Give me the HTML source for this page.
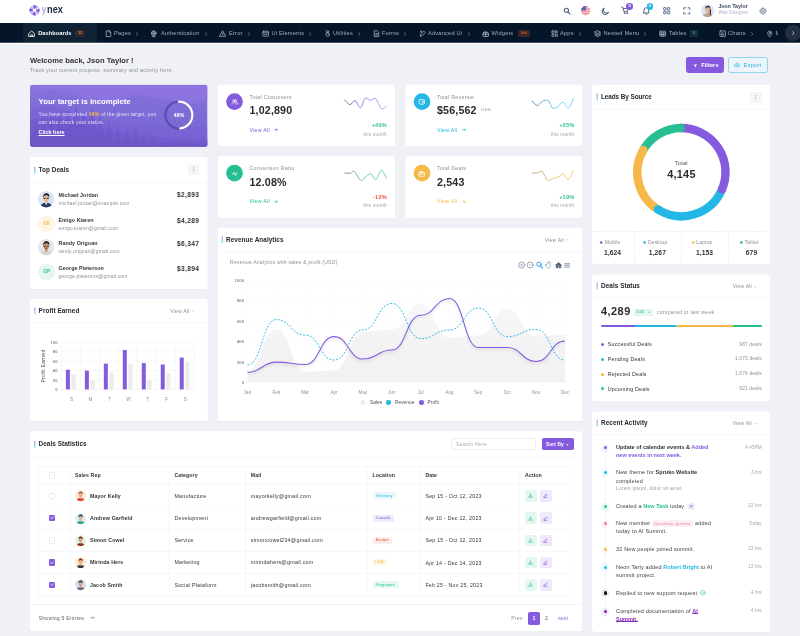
<!DOCTYPE html>
<html><head><meta charset="utf-8"><title>Ynex</title>
<style>
*{box-sizing:border-box;margin:0;padding:0}
html,body{width:800px;height:636px;overflow:hidden}
#root{position:absolute;left:0;top:0;width:800px;height:636px;will-change:transform;transform:translateZ(0)}
body{background:#f0f1f7;font-family:"Liberation Sans",sans-serif;color:#333335;position:relative;font-size:5.4px;line-height:1}
.a{position:absolute;white-space:nowrap}
.card{position:absolute;background:#fff;border-radius:3px;box-shadow:0 .3px .6px rgba(0,0,0,.03)}
.hd{position:absolute;left:0;right:0;top:0;border-bottom:.5px solid #f1f2f6}
.tt{position:absolute;font-weight:700;font-size:6.6px;color:#2a2a2e;white-space:nowrap}
.tt:before{content:"";position:absolute;left:-4.3px;top:.6px;width:1px;height:5.6px;background:linear-gradient(#845adf,#23b7e5)}
.nt{font-size:5.700px;color:#a3abbc;letter-spacing:.032em}
.m{color:#8c9097}
.b{font-weight:700}
.p{color:#845adf}.s{color:#23b7e5}.w{color:#f5b849}.g{color:#26bf94}.d{color:#e6533c}
.va{position:absolute;font-size:5.2px;color:#8c9097;white-space:nowrap}
.dot3{position:absolute;width:9px;height:9px;border-radius:1.5px;background:#f3f4f8;border:.4px solid #eceef3}
svg{position:absolute;overflow:visible}
</style></head><body><div id="root">

<!-- HEADER -->
<div class="a" id="header" style="left:0;top:0;width:800px;height:23px;background:#fff">
<!-- logo -->
<svg style="left:0;top:0" width="80" height="23"><path d="M36.10 9.72L40.08 9.11L38.91 12.65L36.04 11.02Z" fill="#7c4fe0"/><path d="M36.04 11.02L39.28 13.40L35.96 15.08L35.08 11.90Z" fill="#c9b8f5"/><path d="M35.08 11.90L35.69 15.88L32.15 14.71L33.78 11.84Z" fill="#7c4fe0"/><path d="M33.78 11.84L31.40 15.08L29.72 11.76L32.90 10.88Z" fill="#c9b8f5"/><path d="M32.90 10.88L28.92 11.49L30.09 7.95L32.96 9.58Z" fill="#7c4fe0"/><path d="M32.96 9.58L29.72 7.20L33.04 5.52L33.92 8.70Z" fill="#c9b8f5"/><path d="M33.92 8.70L33.31 4.72L36.85 5.89L35.22 8.76Z" fill="#7c4fe0"/><path d="M35.22 8.76L37.60 5.52L39.28 8.84L36.10 9.72Z" fill="#c9b8f5"/>
<text x="41.700" y="12.800" font-family="Liberation Sans" font-size="10.800" font-weight="700" fill="#b9a3ef" textLength="4.500" lengthAdjust="spacingAndGlyphs">y</text>
<text x="47.100" y="12.800" font-family="Liberation Sans" font-size="10.800" font-weight="700" fill="#1b2740" textLength="15.900" lengthAdjust="spacingAndGlyphs">nex</text></svg>
<!-- icons -->
<svg style="left:563.2px;top:6.900px" width="8" height="8" viewBox="0 0 16 16" fill="none" stroke="#536485" stroke-width="2.300" stroke-linecap="round"><circle cx="6.7" cy="6.7" r="4.3"/><path d="M10 10l4.2 4.2"/></svg>
<svg style="left:581.4px;top:6.2px" width="9.4" height="9.4" viewBox="0 0 20 20"><defs><clipPath id="fc"><circle cx="10" cy="10" r="10"/></clipPath></defs><g clip-path="url(#fc)"><rect width="20" height="20" fill="#f7c3c9"/><rect y="0" width="20" height="2.4" fill="#ef8f9b"/><rect y="5" width="20" height="2.4" fill="#ef8f9b"/><rect y="10" width="20" height="2.4" fill="#ef8f9b"/><rect y="15" width="20" height="2.4" fill="#ef8f9b"/><rect y="18.6" width="20" height="2" fill="#ef8f9b"/><rect width="10.500" height="9.500" fill="#5f63ad"/></g></svg>
<svg style="left:600.7px;top:6.500px" width="8.600" height="8.600" viewBox="0 0 16 16" fill="none" stroke="#536485" stroke-width="1.900" stroke-linejoin="round"><path d="M6.2 2.2a6 6 0 1 0 7.6 7.6A5 5 0 0 1 6.2 2.2z"/></svg>
<svg style="left:620.9px;top:6.300px" width="8.800" height="8.800" viewBox="0 0 18 18" fill="none" stroke="#536485" stroke-width="2" stroke-linecap="round" stroke-linejoin="round"><path d="M1.5 2.5h2.3l2 8.6h7.6l1.8-6H5"/><circle cx="7" cy="14.6" r="1" fill="#536485"/><circle cx="12.6" cy="14.6" r="1" fill="#536485"/></svg>
<div class="a" style="left:626.4px;top:3.100px;width:6.600px;height:6.600px;border-radius:50%;background:#845adf;color:#fff;font-size:4.2px;font-weight:700;text-align:center;line-height:6.8px">5</div>
<svg style="left:641.9px;top:6.400px" width="8.600" height="9" viewBox="0 0 18 18" fill="none" stroke="#536485" stroke-width="2" stroke-linecap="round" stroke-linejoin="round"><path d="M4.2 12.6V8a4.8 4.800 0 0 1 9.600 0v4.600l1.400 1.600H2.800z"/><path d="M7.400 16.400h3.200"/></svg>
<div class="a" style="left:646.6px;top:3.100px;width:6.600px;height:6.600px;border-radius:50%;background:#23b7e5;color:#fff;font-size:4.2px;font-weight:700;text-align:center;line-height:6.8px">3</div>
<svg style="left:663px;top:7.100px" width="7.400" height="7.400" viewBox="0 0 16 16" fill="none" stroke="#536485" stroke-width="2" stroke-linejoin="round"><rect x="1.400" y="1.400" width="5.200" height="5.200" rx=".8"/><rect x="9.400" y="1.400" width="5.200" height="5.200" rx=".8"/><rect x="1.400" y="9.400" width="5.200" height="5.200" rx=".8"/><rect x="9.400" y="9.400" width="5.200" height="5.200" rx=".8"/></svg>
<svg style="left:682.8px;top:7px" width="7.6" height="7.6" viewBox="0 0 16 16" fill="none" stroke="#536485" stroke-width="1.9" stroke-linecap="round" stroke-linejoin="round"><path d="M1.600 5.400V1.600h3.800M10.600 1.600h3.800v3.800M14.400 10.600v3.800h-3.800M5.400 14.400H1.600v-3.800"/></svg>
<!-- avatar -->
<svg style="left:701.400px;top:4.100px" width="13.300" height="13.300" viewBox="0 0 26 26"><defs><clipPath id="av0"><circle cx="13" cy="13" r="13"/></clipPath></defs><g clip-path="url(#av0)"><rect width="26" height="26" fill="#dbe3fb"/><path d="M3 27c0-6 4-9 10-9s10 3 10 9z" fill="#b9a68f"/><path d="M17.500 9c3 2 2.500 8 1.500 13l-2-1c.5-4 0-8-1-10z" fill="#2a2326"/><rect x="10.800" y="14" width="4.400" height="5.500" fill="#d9a17e"/><ellipse cx="13" cy="11" rx="4.300" ry="5" fill="#e5b491"/><path d="M8 11c-1-6 3-8 5.500-7.600C17 3 19 6 18 11c-.5-3-2-4.500-5-4.500S8.500 8 8 11z" fill="#3a2a26"/></g></svg>
<div class="a b" style="left:718.400px;top:4.300px;font-size:5.300px;color:#3b4763;letter-spacing:0">Json Taylor</div>
<div class="a" style="left:718.400px;top:10.900px;font-size:4.500px;color:#a4aec6;letter-spacing:.03em">Web Designer</div>
<svg style="left:759px;top:6.800px" width="8" height="8" viewBox="-8 -8 16 16" fill="none" stroke="#536485"><circle r="4.800" stroke-width="1.400"/><circle r="6.200" stroke-width="1.600" stroke-dasharray="2.435 2.435" transform="rotate(-14)"/><circle r="1.900" stroke-width="1.300"/></svg>
</div>
<!-- NAV -->
<div class="a" id="nav" style="left:0;top:23px;width:800px;height:20px;background:#05162a;overflow:hidden">
<div class="a" style="left:23px;top:0;width:74px;height:20px;background:#102334"></div>
<svg style="left:28.2px;top:6.700px" width="7.400" height="7.400" viewBox="0 0 16 16" fill="none" stroke="#ffffff" stroke-width="1.7" stroke-linecap="round" stroke-linejoin="round"><path d="M2 7.500L8 2.200l6 5.300V14H2z"/><path d="M6 14v-3.600h4V14"/></svg><div class="a b" style="left:38.2px;top:7.700px;font-size:5.700px;color:#fff;letter-spacing:.005em">Dashboards</div><div class="a" style="left:75px;top:6.500px;width:10.400px;height:7.200px;border-radius:1px;background:#2d2a2f;color:#f08c45;font-size:3.800px;font-weight:700;text-align:center;line-height:7.400px">12</div>
<svg style="left:105.1px;top:6.700px" width="7.400" height="7.400" viewBox="0 0 16 16" fill="none" stroke="#a7aebe" stroke-width="1.7" stroke-linecap="round" stroke-linejoin="round"><path d="M3.500 1.800h6l3 3V14.200h-9z"/><path d="M9.300 2v3h3"/></svg><div class="a nt" style="left:114.0px;top:7.9px;">Pages</div><svg style="left:136.0px;top:8.600px" width="2.400" height="3.800" viewBox="0 0 5 8" fill="none" stroke="#8d95a8" stroke-width="1.300" stroke-linecap="round" stroke-linejoin="round"><path d="M1 1l3 3-3 3"/></svg>
<svg style="left:150.0px;top:6.700px" width="7.400" height="7.400" viewBox="0 0 16 16" fill="none" stroke="#a7aebe" stroke-width="1.7" stroke-linecap="round" stroke-linejoin="round"><circle cx="8" cy="7" r="5"/><path d="M3 7h10M8 2c-2 1.500-2 8.500 0 10M8 2c2 1.500 2 8.500 0 10M4.500 14.500h7"/></svg><div class="a nt" style="left:160.9px;top:7.9px;">Authentication</div><svg style="left:205.0px;top:8.600px" width="2.400" height="3.800" viewBox="0 0 5 8" fill="none" stroke="#8d95a8" stroke-width="1.300" stroke-linecap="round" stroke-linejoin="round"><path d="M1 1l3 3-3 3"/></svg>
<svg style="left:219.2px;top:6.700px" width="7.400" height="7.400" viewBox="0 0 16 16" fill="none" stroke="#a7aebe" stroke-width="1.7" stroke-linecap="round" stroke-linejoin="round"><path d="M8 2.200L14.400 13.600H1.600z"/><path d="M8 6.800v3.200"/></svg><div class="a nt" style="left:229.0px;top:7.9px;">Error</div><svg style="left:248.0px;top:8.600px" width="2.400" height="3.800" viewBox="0 0 5 8" fill="none" stroke="#8d95a8" stroke-width="1.300" stroke-linecap="round" stroke-linejoin="round"><path d="M1 1l3 3-3 3"/></svg>
<svg style="left:262.2px;top:6.700px" width="7.400" height="7.400" viewBox="0 0 16 16" fill="none" stroke="#a7aebe" stroke-width="1.7" stroke-linecap="round" stroke-linejoin="round"><rect x="2" y="2.600" width="12" height="10.800" rx="1"/><path d="M2 6h12M5.600 9.600h4.800"/></svg><div class="a nt" style="left:271.5px;top:7.9px;">Ui Elements</div><svg style="left:309.0px;top:8.600px" width="2.400" height="3.800" viewBox="0 0 5 8" fill="none" stroke="#8d95a8" stroke-width="1.300" stroke-linecap="round" stroke-linejoin="round"><path d="M1 1l3 3-3 3"/></svg>
<svg style="left:323.7px;top:6.700px" width="7.400" height="7.400" viewBox="0 0 16 16" fill="none" stroke="#a7aebe" stroke-width="1.7" stroke-linecap="round" stroke-linejoin="round"><circle cx="8" cy="9.800" r="3.800"/><path d="M5.600 2h4.800l-1 4H6.600z"/></svg><div class="a nt" style="left:333.0px;top:7.9px;">Utilities</div><svg style="left:358.0px;top:8.600px" width="2.400" height="3.800" viewBox="0 0 5 8" fill="none" stroke="#8d95a8" stroke-width="1.300" stroke-linecap="round" stroke-linejoin="round"><path d="M1 1l3 3-3 3"/></svg>
<svg style="left:372.7px;top:6.700px" width="7.400" height="7.400" viewBox="0 0 16 16" fill="none" stroke="#a7aebe" stroke-width="1.7" stroke-linecap="round" stroke-linejoin="round"><path d="M3.500 1.800h6l3 3V14.200h-9z"/><path d="M5.800 8h4.400M5.800 10.800h4.400"/></svg><div class="a nt" style="left:382.0px;top:7.9px;">Forms</div><svg style="left:404.0px;top:8.600px" width="2.400" height="3.800" viewBox="0 0 5 8" fill="none" stroke="#8d95a8" stroke-width="1.300" stroke-linecap="round" stroke-linejoin="round"><path d="M1 1l3 3-3 3"/></svg>
<svg style="left:418.7px;top:6.700px" width="7.400" height="7.400" viewBox="0 0 16 16" fill="none" stroke="#a7aebe" stroke-width="1.7" stroke-linecap="round" stroke-linejoin="round"><path d="M3 13l1-5 6.500-5.500 3 3L7 12z"/><path d="M2.500 4.500l2-1.500M5 2l.5 2"/></svg><div class="a nt" style="left:428.0px;top:7.9px;">Advanced Ui</div><svg style="left:468.0px;top:8.600px" width="2.400" height="3.800" viewBox="0 0 5 8" fill="none" stroke="#8d95a8" stroke-width="1.300" stroke-linecap="round" stroke-linejoin="round"><path d="M1 1l3 3-3 3"/></svg>
<svg style="left:482.2px;top:6.700px" width="7.400" height="7.400" viewBox="0 0 16 16" fill="none" stroke="#a7aebe" stroke-width="1.7" stroke-linecap="round" stroke-linejoin="round"><rect x="2" y="6" width="12" height="8" rx="1"/><path d="M2 9.500h12M8 6v8M5.500 6c-2-3 1.500-4.500 2.500 0 1-4.500 4.500-3 2.500 0"/></svg><div class="a nt" style="left:491.5px;top:7.9px;">Widgets</div>
<svg style="left:550.7px;top:6.700px" width="7.400" height="7.400" viewBox="0 0 16 16" fill="none" stroke="#a7aebe" stroke-width="1.7" stroke-linecap="round" stroke-linejoin="round"><rect x="2" y="2" width="5" height="5" rx=".8"/><rect x="9.500" y="2" width="4.500" height="4.500" rx=".8"/><rect x="2" y="9.500" width="4.500" height="4.500" rx=".8"/><rect x="9.500" y="9.500" width="4.500" height="4.500" rx=".8"/></svg><div class="a nt" style="left:560.0px;top:7.9px;">Apps</div><svg style="left:579.0px;top:8.600px" width="2.400" height="3.800" viewBox="0 0 5 8" fill="none" stroke="#8d95a8" stroke-width="1.300" stroke-linecap="round" stroke-linejoin="round"><path d="M1 1l3 3-3 3"/></svg>
<svg style="left:594.2px;top:6.700px" width="7.400" height="7.400" viewBox="0 0 16 16" fill="none" stroke="#a7aebe" stroke-width="1.7" stroke-linecap="round" stroke-linejoin="round"><path d="M8 1.800l6 3-6 3-6-3z"/><path d="M2 8l6 3 6-3M2 11.200l6 3 6-3"/></svg><div class="a nt" style="left:603.5px;top:7.9px;">Nested Menu</div><svg style="left:644.0px;top:8.600px" width="2.400" height="3.800" viewBox="0 0 5 8" fill="none" stroke="#8d95a8" stroke-width="1.300" stroke-linecap="round" stroke-linejoin="round"><path d="M1 1l3 3-3 3"/></svg>
<svg style="left:659.2px;top:6.700px" width="7.400" height="7.400" viewBox="0 0 16 16" fill="none" stroke="#a7aebe" stroke-width="1.7" stroke-linecap="round" stroke-linejoin="round"><rect x="1.800" y="2.600" width="12.400" height="10.800" rx="1"/><path d="M1.800 6.200h12.400M1.800 9.800h12.400M6 6.200v7.200M10 6.200v7.200"/></svg><div class="a nt" style="left:669.0px;top:7.9px;">Tables</div>
<svg style="left:718.7px;top:6.700px" width="7.400" height="7.400" viewBox="0 0 16 16" fill="none" stroke="#a7aebe" stroke-width="1.7" stroke-linecap="round" stroke-linejoin="round"><rect x="2" y="2" width="12" height="12" rx="1"/><path d="M5.400 11V8M8 11V5M10.600 11V9"/></svg><div class="a nt" style="left:728.0px;top:7.9px;">Charts</div><svg style="left:751.0px;top:8.600px" width="2.400" height="3.800" viewBox="0 0 5 8" fill="none" stroke="#8d95a8" stroke-width="1.300" stroke-linecap="round" stroke-linejoin="round"><path d="M1 1l3 3-3 3"/></svg>
<svg style="left:766.2px;top:6.700px" width="7.400" height="7.400" viewBox="0 0 16 16" fill="none" stroke="#a7aebe" stroke-width="1.7" stroke-linecap="round" stroke-linejoin="round"><path d="M8 14.500c-3-3.500-4.500-5.500-4.500-7.700a4.500 4.500 0 0 1 9 0c0 2.200-1.500 4.200-4.500 7.700z"/><circle cx="8" cy="6.800" r="1.600"/></svg><div class="a nt" style="left:775.5px;top:7.9px;">M</div>
<div class="a" style="left:517.800px;top:6.800px;width:12.600px;height:6.800px;border-radius:1px;background:#3a2627;color:#e6533c;font-size:3.500px;font-weight:700;text-align:center;line-height:6.800px">Hot</div>
<div class="a" style="left:690px;top:6.600px;width:7.600px;height:7px;border-radius:1px;background:#15303a;color:#26bf94;font-size:3.800px;font-weight:700;text-align:center;line-height:7.200px">3</div>
<div class="a" style="left:778.200px;top:0;width:22px;height:20px;background:#05162a"></div><div class="a" style="left:784.600px;top:1.800px;width:16.400px;height:16.400px;border-radius:50%;background:#222f40"></div><svg style="left:791.600px;top:8px" width="2.600" height="4.200" viewBox="0 0 5 8" fill="none" stroke="#c9cedb" stroke-width="1.400" stroke-linecap="round" stroke-linejoin="round"><path d="M1 1l3 3-3 3"/></svg>
</div>

<svg id="navhalo" style="left:0;top:0" width="800" height="46"><rect x="0" y="42.750" width="800" height="1.500" fill="#fdfdff"/></svg>

<!-- PAGE TITLE -->
<div class="a" style="top:55.74px;font-size:7.6px;line-height:9.12px;color:#333335;letter-spacing:0.0em;font-weight:700;left:30.00px;">Welcome back, Json Taylor !</div>
<div class="a" style="top:67.09px;font-size:5.35px;line-height:6.42px;color:#8c9097;letter-spacing:0.045em;left:30.00px;">Track your current projects, summary and activity here.</div>
<div class="a" style="left:686px;top:57px;width:38.2px;height:16.3px;border-radius:2.4px;background:#845adf"></div>
<svg style="left:692.8px;top:63.6px" width="4.8" height="3.7" viewBox="0 0 10 9" fill="#fff"><path d="M.5 1h9L6.2 4.600V8L3.800 6.800V4.600z"/></svg>
<div class="a" style="top:61.81px;font-size:5.65px;line-height:6.78px;color:#fff;letter-spacing:0.012em;font-weight:700;left:701.20px;">Filters</div>
<div class="a" style="left:728.4px;top:57px;width:39.4px;height:16.4px;border-radius:2.4px;background:#edf4fa;border:.7px solid #8fd6f0"></div>
<svg style="left:734px;top:62.4px" width="6" height="5.6" viewBox="0 0 12 11" fill="none" stroke="#23b7e5" stroke-width="1.200" stroke-linecap="round" stroke-linejoin="round"><path d="M3.200 9.500A2.600 2.600 0 0 1 3 4.300 3.200 3.200 0 0 1 9.200 4.500 2.500 2.500 0 0 1 9 9.500z"/><path d="M6 8V5.400M4.900 6.400L6 5.300l1.100 1.100"/></svg>
<div class="a" style="top:61.78px;font-size:5.7px;line-height:6.84px;color:#23b7e5;letter-spacing:0.04em;left:743.60px;">Export</div>
<svg style="left:0;top:0" width="800" height="636"><defs><clipPath id="tcp"><rect x="29.900" y="84.700" width="177.900" height="62.050" rx="3.200"/></clipPath></defs><rect x="29.300" y="84.100" width="179.100" height="63.250" rx="3.800" fill="#fff" fill-opacity=".5"/><g clip-path="url(#tcp)"><g transform="translate(29.900,84.500)">
<defs><linearGradient id="tg" x1="0" y1="0" x2="0" y2="1"><stop offset="0" stop-color="#8672db"/><stop offset="1" stop-color="#7463d0"/></linearGradient></defs>
<rect width="177.500" height="62.500" fill="url(#tg)"/>
<path d="M0 0H177.500V17L160 20L140 16L122 13L105 10L92 15L75 18L55 14L38 8L28 5L15 6L0 10Z" fill="#9376e5" opacity=".55"/>
<path d="M0 26L18 20L40 27L65 35L90 38L120 40L150 44L177.500 42V62.500H0z" fill="#7a5fd5" opacity=".55"/>
<path d="M0 36L25 32L50 40L80 47L110 50L140 54L177.500 55V62.500H0z" fill="#7058cc" opacity=".6"/>
<path d="M5 40L9.5 62.5H0.5ZM13 35L18.5 62.5H7.5ZM22 32L28.1 62.5H15.9ZM30 28L36.9 62.5H23.1ZM38 24L45.7 62.5H30.3ZM46 20L54.5 62.5H37.5ZM54 26L61.3 62.5H46.7ZM62 22L70.1 62.5H53.9ZM70 30L76.5 62.5H63.5ZM79 37L84.1 62.5H73.9ZM88 42L92.1 62.5H83.9ZM97 45L100.5 62.5H93.5ZM106 43L109.9 62.5H102.1ZM114 47L117.1 62.5H110.9ZM122 50L124.5 62.5H119.5ZM134 53L135.9 62.5H132.1ZM145 55L146.5 62.5H143.5Z" fill="#6a53c6" opacity=".6"/>
<path d="M0 52L40 50L80 54L120 57L177.500 59V62.500H0z" fill="#6c55c8" opacity=".7"/>
</g></g></svg>
<div class="a" style="top:97.35px;font-size:7.75px;line-height:9.30px;color:#fff;letter-spacing:-0.002em;font-weight:700;left:38.60px;">Your target is incomplete</div>
<div class="a" style="top:112.23px;font-size:4.95px;line-height:5.94px;color:rgba(255,255,255,.8);letter-spacing:0.045em;left:38.60px;">You have completed <b style="color:#f5b849">48%</b> of the given target, you</div>
<div class="a" style="top:119.63px;font-size:4.95px;line-height:5.94px;color:rgba(255,255,255,.8);letter-spacing:0.045em;left:38.60px;">can also check your status.</div>
<div class="a" style="top:129.02px;font-size:5.3px;line-height:6.36px;color:#fff;letter-spacing:0.012em;font-weight:700;left:38.60px;text-decoration:underline;text-underline-offset:.5px;text-decoration-thickness:.5px">Click here</div>
<svg style="left:0;top:0" width="800" height="636"><circle cx="178.9" cy="115.1" r="13.45" fill="none" stroke="#45348e" stroke-opacity=".55" stroke-width="2.300"/><circle cx="178.9" cy="115.1" r="13.45" fill="none" stroke="#fff" stroke-width="2.250" stroke-linecap="round" stroke-dasharray="40.56 84.51" transform="rotate(-90 178.9 115.1)"/></svg>
<div class="a" style="top:112.06px;font-size:5.4px;line-height:6.48px;color:#fff;letter-spacing:0.012em;font-weight:700;left:78.90px;width:200px;text-align:center;">48%</div>
<svg style="left:0;top:0" width="800" height="636"><rect x="217.85" y="85.3" width="177.15" height="61.55" rx="3.2" fill="#0a0a14" fill-opacity=".035"/><rect x="217.85" y="84.6" width="177.15" height="61.55" rx="3.2" fill="#fff"/></svg>
<svg style="left:0;top:0" width="800" height="636"><circle cx="234.5" cy="101.6" r="8.350" fill="#845adf"/></svg>
<svg style="left:230.7px;top:97.9px" width="7.600" height="7.600" viewBox="0 0 16 16" fill="none" stroke="#fff" stroke-width="1.600" stroke-linecap="round" stroke-linejoin="round"><circle cx="6.200" cy="5.800" r="2.300"/><path d="M2 13c0-2.500 1.800-4 4.200-4s4.200 1.500 4.200 4M10.200 3.600a2.300 2.300 0 0 1 0 4.400M11.600 9.300c1.600.5 2.600 1.800 2.600 3.700"/></svg>
<div class="a" style="top:93.79px;font-size:5.35px;line-height:6.42px;color:#8c9097;letter-spacing:0.045em;left:249.50px;">Total Customers</div>
<div class="a" style="top:104.18px;font-size:10.7px;line-height:12.84px;color:#2b2b30;letter-spacing:0.014em;font-weight:700;left:249.50px;">1,02,890</div>
<div class="a" style="top:126.85px;font-size:5.25px;line-height:6.30px;color:#845adf;letter-spacing:0.05em;left:249.50px;">View All</div>
<svg style="left:274.3px;top:128.3px" width="4" height="3.400" viewBox="0 0 8 7" fill="none" stroke="#845adf" stroke-width="1.300" stroke-linecap="round" stroke-linejoin="round"><path d="M.8 3.500h6M4.600 1.200l2.300 2.300-2.300 2.300"/></svg>
<svg style="left:0;top:0" width="800" height="636"><defs><linearGradient id="sg1" gradientUnits="userSpaceOnUse" x1="344.75" y1="0" x2="386.5" y2="0"><stop offset="0" stop-color="#6c6888"/><stop offset=".55" stop-color="#a586f0"/><stop offset="1" stop-color="#a586f0" stop-opacity=".85"/></linearGradient></defs><path d="M344.75 100.00C345.62 100.77 348.29 104.50 350.00 104.60C351.71 104.70 353.23 100.07 355.00 100.60C356.77 101.12 358.93 108.12 360.60 107.75C362.27 107.38 363.33 99.65 365.00 98.40C366.67 97.15 368.83 100.22 370.60 100.25C372.37 100.28 373.83 97.24 375.60 98.60C377.38 99.96 379.43 107.12 381.25 108.40C383.07 109.68 385.62 106.61 386.50 106.25" fill="none" stroke="url(#sg1)" stroke-width=".95" stroke-linecap="round"/></svg>
<div class="a" style="top:122.34px;font-size:5.6px;line-height:6.72px;color:#26bf94;letter-spacing:0.03em;font-weight:700;right:413.20px;">+40%</div>
<div class="a" style="top:131.81px;font-size:4.65px;line-height:5.58px;color:#a1a5ad;letter-spacing:0.045em;right:413.20px;">this month</div>
<svg style="left:0;top:0" width="800" height="636"><rect x="405.2" y="85.3" width="177.10" height="61.55" rx="3.2" fill="#0a0a14" fill-opacity=".035"/><rect x="405.2" y="84.6" width="177.10" height="61.55" rx="3.2" fill="#fff"/></svg>
<svg style="left:0;top:0" width="800" height="636"><circle cx="422" cy="101.6" r="8.350" fill="#23b7e5"/></svg>
<svg style="left:418.2px;top:97.9px" width="7.600" height="7.600" viewBox="0 0 16 16" fill="none" stroke="#fff" stroke-width="1.600" stroke-linecap="round" stroke-linejoin="round"><rect x="2.600" y="3.400" width="10.800" height="9.600" rx="1.600"/><path d="M13.400 6.400h-3a1.700 1.700 0 0 0 0 3.600h3"/></svg>
<div class="a" style="top:93.79px;font-size:5.35px;line-height:6.42px;color:#8c9097;letter-spacing:0.045em;left:437.00px;">Total Revenue</div>
<div class="a" style="top:104.18px;font-size:10.7px;line-height:12.84px;color:#2b2b30;letter-spacing:0.014em;font-weight:700;left:437.00px;">$56,562</div>
<div class="a" style="top:126.85px;font-size:5.25px;line-height:6.30px;color:#23b7e5;letter-spacing:0.05em;left:437.00px;">View All</div>
<svg style="left:461.8px;top:128.3px" width="4" height="3.400" viewBox="0 0 8 7" fill="none" stroke="#23b7e5" stroke-width="1.300" stroke-linecap="round" stroke-linejoin="round"><path d="M.8 3.500h6M4.600 1.200l2.300 2.300-2.300 2.300"/></svg>
<svg style="left:0;top:0" width="800" height="636"><defs><linearGradient id="sg2" gradientUnits="userSpaceOnUse" x1="532.25" y1="0" x2="573.5" y2="0"><stop offset="0" stop-color="#5a80ad"/><stop offset=".55" stop-color="#5fcaf0"/><stop offset="1" stop-color="#5fcaf0" stop-opacity=".85"/></linearGradient></defs><path d="M532.25 101.10C533.08 101.83 535.54 105.47 537.25 105.50C538.96 105.53 540.75 102.12 542.50 101.25C544.25 100.38 546.40 99.69 547.75 100.25C549.10 100.81 549.71 103.24 550.60 104.60C551.49 105.96 551.85 108.08 553.10 108.40C554.35 108.72 556.43 107.55 558.10 106.50C559.77 105.45 561.37 101.83 563.10 102.10C564.83 102.37 566.77 108.77 568.50 108.10C570.23 107.43 572.67 99.77 573.50 98.10" fill="none" stroke="url(#sg2)" stroke-width=".95" stroke-linecap="round"/></svg>
<div class="a" style="top:122.34px;font-size:5.6px;line-height:6.72px;color:#26bf94;letter-spacing:0.03em;font-weight:700;right:225.70px;">+25%</div>
<div class="a" style="top:131.81px;font-size:4.65px;line-height:5.58px;color:#a1a5ad;letter-spacing:0.045em;right:225.70px;">this month</div>
<div class="a" style="top:107.16px;font-size:4.4px;line-height:5.28px;color:#8c9097;letter-spacing:0.04em;left:481.30px;">USD</div>
<svg style="left:0;top:0" width="800" height="636"><rect x="217.85" y="156.89999999999998" width="177.15" height="61.90" rx="3.2" fill="#0a0a14" fill-opacity=".035"/><rect x="217.85" y="156.2" width="177.15" height="61.90" rx="3.2" fill="#fff"/></svg>
<svg style="left:0;top:0" width="800" height="636"><circle cx="234.5" cy="173.2" r="8.350" fill="#26bf94"/></svg>
<svg style="left:230.7px;top:169.5px" width="7.600" height="7.600" viewBox="0 0 16 16" fill="none" stroke="#fff" stroke-width="1.600" stroke-linecap="round" stroke-linejoin="round"><path d="M3.500 9.500l3-5 1.500 3.200M12.500 6.500l-3 5L8 8.300"/></svg>
<div class="a" style="top:165.39px;font-size:5.35px;line-height:6.42px;color:#8c9097;letter-spacing:0.045em;left:249.50px;">Conversion Ratio</div>
<div class="a" style="top:175.78px;font-size:10.7px;line-height:12.84px;color:#2b2b30;letter-spacing:0.014em;font-weight:700;left:249.50px;">12.08%</div>
<div class="a" style="top:198.45px;font-size:5.25px;line-height:6.30px;color:#26bf94;letter-spacing:0.05em;left:249.50px;">View All</div>
<svg style="left:274.3px;top:199.89999999999998px" width="4" height="3.400" viewBox="0 0 8 7" fill="none" stroke="#26bf94" stroke-width="1.300" stroke-linecap="round" stroke-linejoin="round"><path d="M.8 3.500h6M4.600 1.200l2.300 2.300-2.300 2.300"/></svg>
<svg style="left:0;top:0" width="800" height="636"><defs><linearGradient id="sg3" gradientUnits="userSpaceOnUse" x1="344.75" y1="0" x2="386.25" y2="0"><stop offset="0" stop-color="#8c8aa6"/><stop offset=".55" stop-color="#4fcfa8"/><stop offset="1" stop-color="#4fcfa8" stop-opacity=".85"/></linearGradient></defs><path d="M344.75 173.10C345.73 173.10 348.99 173.37 350.60 173.10C352.21 172.83 352.73 170.28 354.40 171.50C356.07 172.72 358.83 179.40 360.60 180.40C362.37 181.40 363.33 178.61 365.00 177.50C366.67 176.39 368.77 173.43 370.60 173.75C372.43 174.07 374.23 180.03 376.00 179.40C377.77 178.78 379.54 170.22 381.25 170.00C382.96 169.78 385.42 176.75 386.25 178.10" fill="none" stroke="url(#sg3)" stroke-width=".95" stroke-linecap="round"/></svg>
<div class="a" style="top:193.94px;font-size:5.6px;line-height:6.72px;color:#e6533c;letter-spacing:0.03em;font-weight:700;right:413.20px;">-12%</div>
<div class="a" style="top:203.41px;font-size:4.65px;line-height:5.58px;color:#a1a5ad;letter-spacing:0.045em;right:413.20px;">this month</div>
<svg style="left:0;top:0" width="800" height="636"><rect x="405.2" y="156.89999999999998" width="177.00" height="61.90" rx="3.2" fill="#0a0a14" fill-opacity=".035"/><rect x="405.2" y="156.2" width="177.00" height="61.90" rx="3.2" fill="#fff"/></svg>
<svg style="left:0;top:0" width="800" height="636"><circle cx="422" cy="173.2" r="8.350" fill="#f5b849"/></svg>
<svg style="left:418.2px;top:169.5px" width="7.600" height="7.600" viewBox="0 0 16 16" fill="none" stroke="#fff" stroke-width="1.600" stroke-linecap="round" stroke-linejoin="round"><rect x="2.400" y="4.800" width="11.200" height="8.600" rx="1"/><path d="M5.800 4.800V3.200h4.400v1.600M2.400 8.600h11.200M8 7.800v1.600"/></svg>
<div class="a" style="top:165.39px;font-size:5.35px;line-height:6.42px;color:#8c9097;letter-spacing:0.045em;left:437.00px;">Total Deals</div>
<div class="a" style="top:175.78px;font-size:10.7px;line-height:12.84px;color:#2b2b30;letter-spacing:0.014em;font-weight:700;left:437.00px;">2,543</div>
<div class="a" style="top:198.45px;font-size:5.25px;line-height:6.30px;color:#f5b849;letter-spacing:0.05em;left:437.00px;">View All</div>
<svg style="left:461.8px;top:199.89999999999998px" width="4" height="3.400" viewBox="0 0 8 7" fill="none" stroke="#f5b849" stroke-width="1.300" stroke-linecap="round" stroke-linejoin="round"><path d="M.8 3.500h6M4.600 1.200l2.300 2.300-2.300 2.300"/></svg>
<svg style="left:0;top:0" width="800" height="636"><defs><linearGradient id="sg4" gradientUnits="userSpaceOnUse" x1="532.25" y1="0" x2="573.5" y2="0"><stop offset="0" stop-color="#b3a08a"/><stop offset=".55" stop-color="#f7c069"/><stop offset="1" stop-color="#f7c069" stop-opacity=".85"/></linearGradient></defs><path d="M532.25 173.10C533.12 173.07 535.89 173.21 537.50 172.90C539.11 172.59 540.75 170.90 541.90 171.25C543.05 171.60 543.47 173.47 544.40 175.00C545.33 176.53 546.15 179.78 547.50 180.40C548.85 181.03 550.62 179.33 552.50 178.75C554.38 178.17 556.98 177.73 558.75 176.90C560.52 176.07 561.48 173.33 563.10 173.75C564.73 174.17 566.77 180.03 568.50 179.40C570.23 178.78 572.67 171.57 573.50 170.00" fill="none" stroke="url(#sg4)" stroke-width=".95" stroke-linecap="round"/></svg>
<div class="a" style="top:193.94px;font-size:5.6px;line-height:6.72px;color:#26bf94;letter-spacing:0.03em;font-weight:700;right:225.70px;">+19%</div>
<div class="a" style="top:203.41px;font-size:4.65px;line-height:5.58px;color:#a1a5ad;letter-spacing:0.045em;right:225.70px;">this month</div>
<svg style="left:0;top:0" width="800" height="636"><rect x="29.9" y="157.6" width="177.80" height="132.30" rx="3.2" fill="#0a0a14" fill-opacity=".035"/><rect x="29.9" y="156.9" width="177.80" height="132.30" rx="3.2" fill="#fff"/></svg>
<svg style="left:0;top:0" width="800" height="636"><rect x="34.13" y="166.70" width="1.340" height="3.350" fill="#845adf" fill-opacity=".55"/><rect x="34.13" y="170.05" width="1.340" height="3.350" fill="#23b7e5" fill-opacity=".55"/></svg>
<div class="a" style="top:165.96px;font-size:6.4px;line-height:7.68px;color:#2a2a2e;letter-spacing:0.008em;font-weight:700;left:38.60px;">Top Deals</div>
<svg style="left:0;top:0" width="800" height="636"><rect x="29.9" y="181.8" width="177.80" height=".55" fill="#f0f1f6"/></svg>
<div class="a" style="left:187.5px;top:163.6px;width:11.600px;height:11.400px;border-radius:1.500px;background:#f4f5f9"></div>
<svg style="left:192.7px;top:167px" width="1" height="4.600" viewBox="0 0 2 9" fill="#5a5f6c"><circle cx="1" cy="1.300" r=".9"/><circle cx="1" cy="4.500" r=".9"/><circle cx="1" cy="7.700" r=".9"/></svg>
<svg style="left:38.30px;top:191.00px" width="16.4" height="16.4" viewBox="0 0 26 26"><defs><clipPath id="tv0"><circle cx="13" cy="13" r="13"/></clipPath></defs><g clip-path="url(#tv0)"><rect width="26" height="26" fill="#dbe4f7"/><path d="M3.500 27c0-6 4-8.500 9.500-8.500s9.500 2.500 9.500 8.500z" fill="#223a63"/><rect x="11" y="15" width="4" height="5" fill="#e9b995"/><ellipse cx="13" cy="11.600" rx="4.300" ry="5" fill="#e9b995"/><path d="M8.200 11.500c-1-6 2.500-8.300 5-8 3.600-.4 5.600 2.600 4.600 8-.5-3-2-4.600-4.800-4.600S8.700 8.500 8.200 11.500z" fill="#23242e"/><path d="M11.500 19l1.500 4 1.500-4z" fill="#e8ecf5"/><path d="M9 11.800h3.200M13.800 11.800H17" stroke="#222" stroke-width="1.400"/></g></svg>
<div class="a" style="top:191.72px;font-size:5.3px;line-height:6.36px;color:#333335;letter-spacing:0.015em;font-weight:700;left:58.50px;">Michael Jordan</div>
<div class="a" style="top:200.53px;font-size:4.95px;line-height:5.94px;color:#8c9097;letter-spacing:0.035em;left:58.50px;">michael.jordan@example.com</div>
<div class="a" style="top:191.48px;font-size:6.7px;line-height:8.04px;color:#333335;letter-spacing:0.045em;font-weight:700;right:600.70px;">$2,893</div>
<div class="a" style="left:38.300px;top:215.8px;width:16.400px;height:16.400px;border-radius:50%;background:#fef5e4"></div>
<div class="a" style="top:221.28px;font-size:4.7px;line-height:5.64px;color:#f5b849;letter-spacing:0.012em;font-weight:700;left:-53.30px;width:200px;text-align:center;">EK</div>
<div class="a" style="top:216.72px;font-size:5.3px;line-height:6.36px;color:#333335;letter-spacing:0.015em;font-weight:700;left:58.50px;">Emigo Kiaren</div>
<div class="a" style="top:225.63px;font-size:4.95px;line-height:5.94px;color:#8c9097;letter-spacing:0.035em;left:58.50px;">emigo.kiaren@gmail.com</div>
<div class="a" style="top:216.88px;font-size:6.7px;line-height:8.04px;color:#333335;letter-spacing:0.045em;font-weight:700;right:600.70px;">$4,289</div>
<svg style="left:38.30px;top:239.10px" width="16.4" height="16.4" viewBox="0 0 26 26"><defs><clipPath id="tv2"><circle cx="13" cy="13" r="13"/></clipPath></defs><g clip-path="url(#tv2)"><rect width="26" height="26" fill="#e1e6ee"/><path d="M3.500 27c0-6 4-8.500 9.500-8.500s9.500 2.500 9.500 8.500z" fill="#d9d6d3"/><rect x="11" y="15" width="4" height="5" fill="#c98e6b"/><ellipse cx="13" cy="11.600" rx="4.300" ry="5" fill="#c98e6b"/><path d="M8.200 11.500c-1-6 2.500-8.300 5-8 3.600-.4 5.600 2.600 4.600 8-.5-3-2-4.600-4.800-4.600S8.700 8.500 8.200 11.500z" fill="#2a1d1a"/><path d="M9 12h3.200M13.800 12H17" stroke="#2a1d1a" stroke-width="1.200"/><ellipse cx="13" cy="15" rx="1.600" ry="1" fill="#8a4a3a"/></g></svg>
<div class="a" style="top:239.62px;font-size:5.3px;line-height:6.36px;color:#333335;letter-spacing:0.015em;font-weight:700;left:58.50px;">Randy Origoan</div>
<div class="a" style="top:249.03px;font-size:4.95px;line-height:5.94px;color:#8c9097;letter-spacing:0.035em;left:58.50px;">randy.origoan@gmail.com</div>
<div class="a" style="top:239.78px;font-size:6.7px;line-height:8.04px;color:#333335;letter-spacing:0.045em;font-weight:700;right:600.70px;">$6,347</div>
<div class="a" style="left:38.300px;top:263.8px;width:16.400px;height:16.400px;border-radius:50%;background:#e3f6f0"></div>
<div class="a" style="top:269.28px;font-size:4.7px;line-height:5.64px;color:#26bf94;letter-spacing:0.012em;font-weight:700;left:-53.30px;width:200px;text-align:center;">GP</div>
<div class="a" style="top:264.82px;font-size:5.3px;line-height:6.36px;color:#333335;letter-spacing:0.015em;font-weight:700;left:58.50px;">George Pieterson</div>
<div class="a" style="top:273.63px;font-size:4.95px;line-height:5.94px;color:#8c9097;letter-spacing:0.035em;left:58.50px;">george.pieterson@gmail.com</div>
<div class="a" style="top:264.88px;font-size:6.7px;line-height:8.04px;color:#333335;letter-spacing:0.045em;font-weight:700;right:600.70px;">$3,894</div>
<svg style="left:0;top:0" width="800" height="636"><rect x="29.9" y="299.65" width="177.90" height="122.15" rx="3.2" fill="#0a0a14" fill-opacity=".035"/><rect x="29.9" y="298.95" width="177.90" height="122.15" rx="3.2" fill="#fff"/></svg>
<svg style="left:0;top:0" width="800" height="636"><rect x="34.13" y="307.40" width="1.340" height="3.350" fill="#845adf" fill-opacity=".55"/><rect x="34.13" y="310.75" width="1.340" height="3.350" fill="#23b7e5" fill-opacity=".55"/></svg>
<div class="a" style="top:306.66px;font-size:6.4px;line-height:7.68px;color:#2a2a2e;letter-spacing:0.008em;font-weight:700;left:38.60px;">Profit Earned</div>
<svg style="left:0;top:0" width="800" height="636"><rect x="29.9" y="322.2" width="177.90" height=".55" fill="#f0f1f6"/></svg>
<div class="a" style="top:307.80px;font-size:5.0px;line-height:6.00px;color:#8c9097;letter-spacing:0.045em;left:170.20px;">View All</div>
<svg style="left:191.7px;top:310.3px" width="2.600" height="1.700" viewBox="0 0 6 4" fill="none" stroke="#8c9097" stroke-width="1.100" stroke-linecap="round" stroke-linejoin="round"><path d="M1 1l2 2 2-2"/></svg>
<svg style="left:0;top:0" width="800" height="636"><path d="M61.1 389.40H194.2" stroke="#ebedf2" stroke-width=".5"/><path d="M61.1 380.02H194.2" stroke="#ebedf2" stroke-width=".5"/><path d="M61.1 370.64H194.2" stroke="#ebedf2" stroke-width=".5"/><path d="M61.1 361.26H194.2" stroke="#ebedf2" stroke-width=".5"/><path d="M61.1 351.88H194.2" stroke="#ebedf2" stroke-width=".5"/><path d="M61.1 342.50H194.2" stroke="#ebedf2" stroke-width=".5"/><path d="M61.10 342.5V389.4" stroke="#ebedf2" stroke-width=".5"/><path d="M80.11 342.5V389.4" stroke="#ebedf2" stroke-width=".5"/><path d="M99.13 342.5V389.4" stroke="#ebedf2" stroke-width=".5"/><path d="M118.14 342.5V389.4" stroke="#ebedf2" stroke-width=".5"/><path d="M137.16 342.5V389.4" stroke="#ebedf2" stroke-width=".5"/><path d="M156.17 342.5V389.4" stroke="#ebedf2" stroke-width=".5"/><path d="M175.19 342.5V389.4" stroke="#ebedf2" stroke-width=".5"/><path d="M194.20 342.5V389.4" stroke="#ebedf2" stroke-width=".5"/><rect x="65.90" y="369.70" width="4.000" height="19.70" fill="#845adf"/><rect x="71.20" y="373.92" width="4.600" height="15.48" fill="#ededee"/><rect x="84.87" y="370.64" width="4.000" height="18.76" fill="#845adf"/><rect x="90.17" y="380.02" width="4.600" height="9.38" fill="#ededee"/><rect x="103.84" y="363.61" width="4.000" height="25.79" fill="#845adf"/><rect x="109.14" y="372.52" width="4.600" height="16.88" fill="#ededee"/><rect x="122.81" y="350.00" width="4.000" height="39.40" fill="#845adf"/><rect x="128.11" y="363.61" width="4.600" height="25.79" fill="#ededee"/><rect x="141.78" y="363.14" width="4.000" height="26.26" fill="#845adf"/><rect x="147.08" y="380.02" width="4.600" height="9.38" fill="#ededee"/><rect x="160.75" y="364.54" width="4.000" height="24.86" fill="#845adf"/><rect x="166.05" y="372.99" width="4.600" height="16.41" fill="#ededee"/><rect x="179.72" y="357.51" width="4.000" height="31.89" fill="#845adf"/><rect x="185.02" y="362.20" width="4.600" height="27.20" fill="#ededee"/></svg>
<div class="a" style="top:386.98px;font-size:4.2px;line-height:5.04px;color:#848995;letter-spacing:0.02em;font-weight:700;right:742.40px;">0</div>
<div class="a" style="top:377.60px;font-size:4.2px;line-height:5.04px;color:#848995;letter-spacing:0.02em;font-weight:700;right:742.40px;">20</div>
<div class="a" style="top:368.22px;font-size:4.2px;line-height:5.04px;color:#848995;letter-spacing:0.02em;font-weight:700;right:742.40px;">40</div>
<div class="a" style="top:358.84px;font-size:4.2px;line-height:5.04px;color:#848995;letter-spacing:0.02em;font-weight:700;right:742.40px;">60</div>
<div class="a" style="top:349.46px;font-size:4.2px;line-height:5.04px;color:#848995;letter-spacing:0.02em;font-weight:700;right:742.40px;">80</div>
<div class="a" style="top:340.08px;font-size:4.2px;line-height:5.04px;color:#848995;letter-spacing:0.02em;font-weight:700;right:742.40px;">100</div>
<div class="a" style="top:397.48px;font-size:4.7px;line-height:5.64px;color:#8c9097;letter-spacing:0em;left:-28.50px;width:200px;text-align:center;">S</div>
<div class="a" style="top:397.48px;font-size:4.7px;line-height:5.64px;color:#8c9097;letter-spacing:0em;left:-9.53px;width:200px;text-align:center;">M</div>
<div class="a" style="top:397.48px;font-size:4.7px;line-height:5.64px;color:#8c9097;letter-spacing:0em;left:9.44px;width:200px;text-align:center;">T</div>
<div class="a" style="top:397.48px;font-size:4.7px;line-height:5.64px;color:#8c9097;letter-spacing:0em;left:28.41px;width:200px;text-align:center;">W</div>
<div class="a" style="top:397.48px;font-size:4.7px;line-height:5.64px;color:#8c9097;letter-spacing:0em;left:47.38px;width:200px;text-align:center;">T</div>
<div class="a" style="top:397.48px;font-size:4.7px;line-height:5.64px;color:#8c9097;letter-spacing:0em;left:66.35px;width:200px;text-align:center;">F</div>
<div class="a" style="top:397.48px;font-size:4.7px;line-height:5.64px;color:#8c9097;letter-spacing:0em;left:85.32px;width:200px;text-align:center;">S</div>
<div class="a" style="left:44.200px;top:365.600px;width:0;height:0"><div class="a" style="transform:translate(-50%,-50%) rotate(-90deg);font-size:5.200px;color:#4d515d;letter-spacing:.04em">Profit Earned</div></div>
<svg style="left:0;top:0" width="800" height="636"><rect x="592.0" y="85.4" width="178.00" height="179.60" rx="3.2" fill="#0a0a14" fill-opacity=".035"/><rect x="592.0" y="84.7" width="178.00" height="179.60" rx="3.2" fill="#fff"/></svg>
<svg style="left:0;top:0" width="800" height="636"><rect x="596.53" y="93.60" width="1.340" height="3.350" fill="#845adf" fill-opacity=".55"/><rect x="596.53" y="96.95" width="1.340" height="3.350" fill="#23b7e5" fill-opacity=".55"/></svg>
<div class="a" style="top:92.86px;font-size:6.4px;line-height:7.68px;color:#2a2a2e;letter-spacing:-0.012em;font-weight:700;left:601.00px;">Leads By Source</div>
<svg style="left:0;top:0" width="800" height="636"><rect x="592.0" y="109.2" width="178.00" height=".55" fill="#f0f1f6"/></svg>
<div class="a" style="left:750px;top:91.6px;width:11.600px;height:11.400px;border-radius:1.500px;background:#f4f5f9"></div>
<svg style="left:755.2px;top:95px" width="1" height="4.600" viewBox="0 0 2 9" fill="#5a5f6c"><circle cx="1" cy="1.300" r=".9"/><circle cx="1" cy="4.500" r=".9"/><circle cx="1" cy="7.700" r=".9"/></svg>
<svg style="left:0;top:0" width="800" height="636"><path d="M680.71 128.06A44.1 44.1 0 0 1 721.84 189.73" fill="none" stroke="#845adf" stroke-width="8.4"/><path d="M721.99 189.38A44.1 44.1 0 0 1 657.64 209.30" fill="none" stroke="#23b7e5" stroke-width="8.4"/><path d="M657.97 209.51A44.1 44.1 0 0 1 643.52 149.57" fill="none" stroke="#f5b849" stroke-width="8.4"/><path d="M643.32 149.90A44.1 44.1 0 0 1 681.09 128.05" fill="none" stroke="#26bf94" stroke-width="8.4"/><circle cx="721.99" cy="189.38" r="4.2" fill="#845adf"/><circle cx="657.97" cy="209.51" r="4.2" fill="#23b7e5"/><circle cx="643.32" cy="149.90" r="4.2" fill="#f5b849"/><circle cx="680.71" cy="128.06" r="4.2" fill="#26bf94"/></svg>
<div class="a" style="top:159.68px;font-size:5.7px;line-height:6.84px;color:#4a4f5a;letter-spacing:0.03em;left:581.30px;width:200px;text-align:center;">Total</div>
<div class="a" style="top:168.46px;font-size:10.9px;line-height:13.08px;color:#2b2b30;letter-spacing:0.02em;font-weight:700;left:581.50px;width:200px;text-align:center;">4,145</div>
<div class="a" style="left:592px;top:231.200px;width:178px;height:0;border-top:.5px dashed #eff0f5"></div>
<div class="a" style="left:633.8px;top:231.400px;width:0;height:33px;border-left:.5px dashed #eff0f5"></div>
<div class="a" style="left:681px;top:231.400px;width:0;height:33px;border-left:.5px dashed #eff0f5"></div>
<div class="a" style="left:728px;top:231.400px;width:0;height:33px;border-left:.5px dashed #eff0f5"></div>
<svg style="left:0;top:0" width="800" height="636"><circle cx="601.2" cy="242.500" r="1.350" fill="#845adf"/></svg>
<div class="a" style="top:239.30px;font-size:5.0px;line-height:6.00px;color:#8c9097;letter-spacing:0.03em;left:604.80px;">Mobile</div>
<div class="a" style="top:248.88px;font-size:6.7px;line-height:8.04px;color:#333335;letter-spacing:0.01em;font-weight:700;left:512.50px;width:200px;text-align:center;">1,624</div>
<svg style="left:0;top:0" width="800" height="636"><circle cx="644.6" cy="242.500" r="1.350" fill="#23b7e5"/></svg>
<div class="a" style="top:239.30px;font-size:5.0px;line-height:6.00px;color:#8c9097;letter-spacing:0.03em;left:648.00px;">Desktop</div>
<div class="a" style="top:248.88px;font-size:6.7px;line-height:8.04px;color:#333335;letter-spacing:0.01em;font-weight:700;left:557.40px;width:200px;text-align:center;">1,267</div>
<svg style="left:0;top:0" width="800" height="636"><circle cx="693.3" cy="242.500" r="1.350" fill="#f5b849"/></svg>
<div class="a" style="top:239.30px;font-size:5.0px;line-height:6.00px;color:#8c9097;letter-spacing:0.03em;left:696.30px;">Laptop</div>
<div class="a" style="top:248.88px;font-size:6.7px;line-height:8.04px;color:#333335;letter-spacing:0.01em;font-weight:700;left:604.50px;width:200px;text-align:center;">1,153</div>
<svg style="left:0;top:0" width="800" height="636"><circle cx="741.4" cy="242.500" r="1.350" fill="#26bf94"/></svg>
<div class="a" style="top:239.30px;font-size:5.0px;line-height:6.00px;color:#8c9097;letter-spacing:0.03em;left:744.40px;">Tablet</div>
<div class="a" style="top:248.88px;font-size:6.7px;line-height:8.04px;color:#333335;letter-spacing:0.01em;font-weight:700;left:651.50px;width:200px;text-align:center;">679</div>
<svg style="left:0;top:0" width="800" height="636"><rect x="592.0" y="275.09999999999997" width="178.00" height="127.00" rx="3.2" fill="#0a0a14" fill-opacity=".035"/><rect x="592.0" y="274.4" width="178.00" height="127.00" rx="3.2" fill="#fff"/></svg>
<svg style="left:0;top:0" width="800" height="636"><rect x="596.53" y="282.70" width="1.340" height="3.350" fill="#845adf" fill-opacity=".55"/><rect x="596.53" y="286.05" width="1.340" height="3.350" fill="#23b7e5" fill-opacity=".55"/></svg>
<div class="a" style="top:281.96px;font-size:6.4px;line-height:7.68px;color:#2a2a2e;letter-spacing:0.008em;font-weight:700;left:601.00px;">Deals Status</div>
<svg style="left:0;top:0" width="800" height="636"><rect x="592.0" y="297" width="178.00" height=".55" fill="#f0f1f6"/></svg>
<div class="a" style="top:283.10px;font-size:5.0px;line-height:6.00px;color:#8c9097;letter-spacing:0.045em;left:732.70px;">View All</div>
<svg style="left:754.2px;top:285.6px" width="2.600" height="1.700" viewBox="0 0 6 4" fill="none" stroke="#8c9097" stroke-width="1.100" stroke-linecap="round" stroke-linejoin="round"><path d="M1 1l2 2 2-2"/></svg>
<div class="a" style="top:305.26px;font-size:10.9px;line-height:13.08px;color:#2b2b30;letter-spacing:0.045em;font-weight:700;left:601.00px;">4,289</div>
<div class="a" style="left:633.800px;top:308.600px;width:19.400px;height:7.200px;border-radius:1px;background:#e3f6f0"></div>
<div class="a" style="top:310.08px;font-size:3.7px;line-height:4.44px;color:#26bf94;letter-spacing:0.02em;font-weight:700;left:636.30px;">1.02</div>
<svg style="left:647.600px;top:311.300px" width="2.400" height="1.800" viewBox="0 0 6 4" fill="#26bf94"><path d="M3 .3L5.600 3.700H.4z"/></svg>
<div class="a" style="top:309.12px;font-size:5.3px;line-height:6.36px;color:#8c9097;letter-spacing:0.04em;left:657.00px;">compared to last week</div>
<div class="a" style="left:601px;top:324.800px;width:33.70px;height:2.100px;background:#845adf;border-radius:1px 0 0 1px"></div>
<div class="a" style="left:634.7px;top:324.800px;width:41.60px;height:2.100px;background:#23b7e5;border-radius:0"></div>
<div class="a" style="left:676.3px;top:324.800px;width:56.50px;height:2.100px;background:#f5b849;border-radius:0"></div>
<div class="a" style="left:732.8px;top:324.800px;width:29.00px;height:2.100px;background:#26bf94;border-radius:0 1px 1px 0"></div>
<div class="a" style="left:600.900px;top:343.0px;width:3px;height:3px;border-radius:50%;background:#845adf"></div>
<div class="a" style="top:341.29px;font-size:5.35px;line-height:6.42px;color:#333335;letter-spacing:0.035em;left:607.80px;">Successful Deals</div>
<div class="a" style="top:341.59px;font-size:4.85px;line-height:5.82px;color:#8c9097;letter-spacing:0.035em;right:38.20px;">987 deals</div>
<div class="a" style="left:600.900px;top:357.7px;width:3px;height:3px;border-radius:50%;background:#23b7e5"></div>
<div class="a" style="top:355.99px;font-size:5.35px;line-height:6.42px;color:#333335;letter-spacing:0.035em;left:607.80px;">Pending Deals</div>
<div class="a" style="top:356.29px;font-size:4.85px;line-height:5.82px;color:#8c9097;letter-spacing:0.035em;right:38.20px;">1,073 deals</div>
<div class="a" style="left:600.900px;top:372.6px;width:3px;height:3px;border-radius:50%;background:#f5b849"></div>
<div class="a" style="top:370.89px;font-size:5.35px;line-height:6.42px;color:#333335;letter-spacing:0.035em;left:607.80px;">Rejected Deals</div>
<div class="a" style="top:371.19px;font-size:4.85px;line-height:5.82px;color:#8c9097;letter-spacing:0.035em;right:38.20px;">1,674 deals</div>
<div class="a" style="left:600.900px;top:387.3px;width:3px;height:3px;border-radius:50%;background:#26bf94"></div>
<div class="a" style="top:385.59px;font-size:5.35px;line-height:6.42px;color:#333335;letter-spacing:0.035em;left:607.80px;">Upcoming Deals</div>
<div class="a" style="top:385.89px;font-size:4.85px;line-height:5.82px;color:#8c9097;letter-spacing:0.035em;right:38.20px;">921 deals</div>
<svg style="left:0;top:0" width="800" height="636"><rect x="217.9" y="228.7" width="364.30" height="193.10" rx="3.2" fill="#0a0a14" fill-opacity=".035"/><rect x="217.9" y="228.0" width="364.30" height="193.10" rx="3.2" fill="#fff"/></svg>
<svg style="left:0;top:0" width="800" height="636"><rect x="221.63" y="236.30" width="1.340" height="3.350" fill="#845adf" fill-opacity=".55"/><rect x="221.63" y="239.65" width="1.340" height="3.350" fill="#23b7e5" fill-opacity=".55"/></svg>
<div class="a" style="top:235.56px;font-size:6.4px;line-height:7.68px;color:#2a2a2e;letter-spacing:0.008em;font-weight:700;left:226.10px;">Revenue Analytics</div>
<svg style="left:0;top:0" width="800" height="636"><rect x="217.9" y="251" width="364.30" height=".55" fill="#f0f1f6"/></svg>
<div class="a" style="top:236.70px;font-size:5.0px;line-height:6.00px;color:#8c9097;letter-spacing:0.045em;left:544.70px;">View All</div>
<svg style="left:566.2px;top:239.20000000000002px" width="2.600" height="1.700" viewBox="0 0 6 4" fill="none" stroke="#8c9097" stroke-width="1.100" stroke-linecap="round" stroke-linejoin="round"><path d="M1 1l2 2 2-2"/></svg>
<div class="a" style="top:258.71px;font-size:5.15px;line-height:6.18px;color:#8c9097;letter-spacing:0.035em;left:230.00px;">Revenue Analytics with sales &amp; profit (USD)</div>
<svg style="left:0;top:0" width="800" height="636" fill="none" stroke="#7c8fa4" stroke-width=".75" stroke-linecap="round"><circle cx="521.700" cy="265.050" r="3"/><path d="M520.600 265.050h2.200M521.700 263.950v2.200" stroke-width=".55"/><circle cx="530.100" cy="265.050" r="3"/><path d="M529 265.050h2.200" stroke-width=".55"/><circle cx="538.900" cy="264.300" r="2.150" stroke="#35a2f7" stroke-width="1"/><path d="M540.600 266l2.100 2.100" stroke="#35a2f7" stroke-width="1.100"/><path d="M546.900 264.800v-1.400c0-.5.800-.5.800 0v-1c0-.55.850-.55.850 0v-.3c0-.55.850-.55.850 0v.5c0-.5.800-.5.800 0v3.400c0 1.300-.8 2.100-2 2.100-1.100 0-1.700-.5-2.300-1.500l-.9-1.500c-.3-.5.300-.9.700-.5z" fill="#fff" stroke="#7f90a5" stroke-width=".6" stroke-linejoin="round"/><path d="M555.400 265.300l3.150-2.900 3.150 2.900M556.300 264.900v3h1.600v-1.800h1.300v1.800h1.600v-3" fill="#465a72" stroke="#465a72" stroke-width=".6" stroke-linejoin="round"/><path d="M564.300 263.500h5.600M564.300 265.300h5.600M564.300 267.100h5.600" stroke="#a4afc0" stroke-width="1.250" stroke-linecap="butt"/></svg>
<svg style="left:0;top:0" width="800" height="636"><path d="M247.5 382.50H565.0" stroke="#eceef2" stroke-width=".45" stroke-dasharray="1 .8"/><path d="M247.5 362.10H565.0" stroke="#eceef2" stroke-width=".45" stroke-dasharray="1 .8"/><path d="M247.5 341.70H565.0" stroke="#eceef2" stroke-width=".45" stroke-dasharray="1 .8"/><path d="M247.5 321.30H565.0" stroke="#eceef2" stroke-width=".45" stroke-dasharray="1 .8"/><path d="M247.5 300.90H565.0" stroke="#eceef2" stroke-width=".45" stroke-dasharray="1 .8"/><path d="M247.5 280.50H565.0" stroke="#eceef2" stroke-width=".45" stroke-dasharray="1 .8"/><path d="M247.50 280.5V382.5" stroke="#f0f1f5" stroke-width=".45" stroke-dasharray="1 .8"/><path d="M276.36 280.5V382.5" stroke="#f0f1f5" stroke-width=".45" stroke-dasharray="1 .8"/><path d="M305.23 280.5V382.5" stroke="#f0f1f5" stroke-width=".45" stroke-dasharray="1 .8"/><path d="M334.09 280.5V382.5" stroke="#f0f1f5" stroke-width=".45" stroke-dasharray="1 .8"/><path d="M362.95 280.5V382.5" stroke="#f0f1f5" stroke-width=".45" stroke-dasharray="1 .8"/><path d="M391.82 280.5V382.5" stroke="#f0f1f5" stroke-width=".45" stroke-dasharray="1 .8"/><path d="M420.68 280.5V382.5" stroke="#f0f1f5" stroke-width=".45" stroke-dasharray="1 .8"/><path d="M449.55 280.5V382.5" stroke="#f0f1f5" stroke-width=".45" stroke-dasharray="1 .8"/><path d="M478.41 280.5V382.5" stroke="#f0f1f5" stroke-width=".45" stroke-dasharray="1 .8"/><path d="M507.27 280.5V382.5" stroke="#f0f1f5" stroke-width=".45" stroke-dasharray="1 .8"/><path d="M536.14 280.5V382.5" stroke="#f0f1f5" stroke-width=".45" stroke-dasharray="1 .8"/><path d="M565.00 280.5V382.5" stroke="#f0f1f5" stroke-width=".45" stroke-dasharray="1 .8"/><defs><linearGradient id="sa" x1="0" y1="0" x2="0" y2="1"><stop offset="0" stop-color="#f8f8f9"/><stop offset=".6" stop-color="#f2f2f3"/></linearGradient></defs><path d="M247.50 370.26C261.93 370.26 261.93 329.15 276.36 329.15C290.80 329.15 290.80 371.69 305.23 371.69C319.66 371.69 319.66 370.46 334.09 370.46C348.52 370.46 348.52 332.11 362.95 332.11C377.39 332.11 377.39 329.56 391.82 329.56C406.25 329.56 406.25 303.96 420.68 303.96C435.11 303.96 435.11 337.62 449.55 337.62C463.98 337.62 463.98 335.58 478.41 335.58C492.84 335.58 492.84 309.06 507.27 309.06C521.70 309.06 521.70 336.40 536.14 336.40C550.57 336.40 550.57 335.07 565.00 335.07L565.0 382.5L247.5 382.5Z" fill="url(#sa)"/><path d="M247.50 372.50C261.93 372.50 261.93 362.10 276.36 362.10C290.80 362.10 290.80 364.55 305.23 364.55C319.66 364.55 319.66 336.60 334.09 336.60C348.52 336.60 348.52 359.04 362.95 359.04C377.39 359.04 377.39 350.06 391.82 350.06C406.25 350.06 406.25 315.18 420.68 315.18C435.11 315.18 435.11 298.55 449.55 298.55C463.98 298.55 463.98 347.51 478.41 347.51C492.84 347.51 492.84 347.51 507.27 347.51C521.70 347.51 521.70 361.49 536.14 361.49C550.57 361.49 550.57 340.99 565.00 340.99" fill="none" stroke="#000" stroke-opacity=".09" stroke-width="1.600" transform="translate(0,1.8)" style="filter:blur(.8px)"/><path d="M247.50 365.06C261.93 365.06 261.93 319.57 276.36 319.57C290.80 319.57 290.80 335.07 305.23 335.07C319.66 335.07 319.66 360.06 334.09 360.06C348.52 360.06 348.52 329.97 362.95 329.97C377.39 329.97 377.39 303.45 391.82 303.45C406.25 303.45 406.25 338.54 420.68 338.54C435.11 338.54 435.11 329.97 449.55 329.97C463.98 329.97 463.98 308.04 478.41 308.04C492.84 308.04 492.84 336.60 507.27 336.60C521.70 336.60 521.70 329.46 536.14 329.46C550.57 329.46 550.57 360.06 565.00 360.06" fill="none" stroke="#23b7e5" stroke-width=".95" stroke-dasharray="1.900 1.500"/><path d="M247.50 372.50C261.93 372.50 261.93 362.10 276.36 362.10C290.80 362.10 290.80 364.55 305.23 364.55C319.66 364.55 319.66 336.60 334.09 336.60C348.52 336.60 348.52 359.04 362.95 359.04C377.39 359.04 377.39 350.06 391.82 350.06C406.25 350.06 406.25 315.18 420.68 315.18C435.11 315.18 435.11 298.55 449.55 298.55C463.98 298.55 463.98 347.51 478.41 347.51C492.84 347.51 492.84 347.51 507.27 347.51C521.70 347.51 521.70 361.49 536.14 361.49C550.57 361.49 550.57 340.99 565.00 340.99" fill="none" stroke="#845adf" stroke-width="1.05"/></svg>
<div class="a" style="top:380.08px;font-size:4.2px;line-height:5.04px;color:#848995;letter-spacing:0.02em;font-weight:700;right:555.80px;">0</div>
<div class="a" style="top:359.68px;font-size:4.2px;line-height:5.04px;color:#848995;letter-spacing:0.02em;font-weight:700;right:555.80px;">200</div>
<div class="a" style="top:339.28px;font-size:4.2px;line-height:5.04px;color:#848995;letter-spacing:0.02em;font-weight:700;right:555.80px;">400</div>
<div class="a" style="top:318.88px;font-size:4.2px;line-height:5.04px;color:#848995;letter-spacing:0.02em;font-weight:700;right:555.80px;">600</div>
<div class="a" style="top:298.48px;font-size:4.2px;line-height:5.04px;color:#848995;letter-spacing:0.02em;font-weight:700;right:555.80px;">800</div>
<div class="a" style="top:278.08px;font-size:4.2px;line-height:5.04px;color:#848995;letter-spacing:0.02em;font-weight:700;right:555.80px;">1000</div>
<div class="a" style="top:389.53px;font-size:4.45px;line-height:5.34px;color:#8c9097;letter-spacing:0.02em;left:147.50px;width:200px;text-align:center;">Jan</div>
<div class="a" style="top:389.53px;font-size:4.45px;line-height:5.34px;color:#8c9097;letter-spacing:0.02em;left:176.36px;width:200px;text-align:center;">Feb</div>
<div class="a" style="top:389.53px;font-size:4.45px;line-height:5.34px;color:#8c9097;letter-spacing:0.02em;left:205.23px;width:200px;text-align:center;">Mar</div>
<div class="a" style="top:389.53px;font-size:4.45px;line-height:5.34px;color:#8c9097;letter-spacing:0.02em;left:234.09px;width:200px;text-align:center;">Apr</div>
<div class="a" style="top:389.53px;font-size:4.45px;line-height:5.34px;color:#8c9097;letter-spacing:0.02em;left:262.95px;width:200px;text-align:center;">May</div>
<div class="a" style="top:389.53px;font-size:4.45px;line-height:5.34px;color:#8c9097;letter-spacing:0.02em;left:291.82px;width:200px;text-align:center;">Jun</div>
<div class="a" style="top:389.53px;font-size:4.45px;line-height:5.34px;color:#8c9097;letter-spacing:0.02em;left:320.68px;width:200px;text-align:center;">Jul</div>
<div class="a" style="top:389.53px;font-size:4.45px;line-height:5.34px;color:#8c9097;letter-spacing:0.02em;left:349.55px;width:200px;text-align:center;">Aug</div>
<div class="a" style="top:389.53px;font-size:4.45px;line-height:5.34px;color:#8c9097;letter-spacing:0.02em;left:378.41px;width:200px;text-align:center;">Sep</div>
<div class="a" style="top:389.53px;font-size:4.45px;line-height:5.34px;color:#8c9097;letter-spacing:0.02em;left:407.27px;width:200px;text-align:center;">Oct</div>
<div class="a" style="top:389.53px;font-size:4.45px;line-height:5.34px;color:#8c9097;letter-spacing:0.02em;left:436.14px;width:200px;text-align:center;">Nov</div>
<div class="a" style="top:389.53px;font-size:4.45px;line-height:5.34px;color:#8c9097;letter-spacing:0.02em;left:465.00px;width:200px;text-align:center;">Dec</div>
<div class="a" style="left:360.7px;top:400.2px;width:4.600px;height:4.600px;border-radius:50%;background:#ededee"></div>
<div class="a" style="top:399.78px;font-size:4.7px;line-height:5.64px;color:#4b505c;letter-spacing:0.02em;left:370.00px;">Sales</div>
<div class="a" style="left:386.2px;top:400.2px;width:4.600px;height:4.600px;border-radius:50%;background:#23b7e5"></div>
<div class="a" style="top:399.78px;font-size:4.7px;line-height:5.64px;color:#4b505c;letter-spacing:0.02em;left:395.00px;">Revenue</div>
<div class="a" style="left:419.2px;top:400.2px;width:4.600px;height:4.600px;border-radius:50%;background:#845adf"></div>
<div class="a" style="top:399.78px;font-size:4.7px;line-height:5.64px;color:#4b505c;letter-spacing:0.02em;left:427.50px;">Profit</div>
<svg style="left:0;top:0" width="800" height="636"><rect x="592.0" y="412.3" width="178.00" height="220.40" rx="3.2" fill="#0a0a14" fill-opacity=".035"/><rect x="592.0" y="411.6" width="178.00" height="220.40" rx="3.2" fill="#fff"/></svg>
<svg style="left:0;top:0" width="800" height="636"><rect x="596.53" y="419.60" width="1.340" height="3.350" fill="#845adf" fill-opacity=".55"/><rect x="596.53" y="422.95" width="1.340" height="3.350" fill="#23b7e5" fill-opacity=".55"/></svg>
<div class="a" style="top:418.86px;font-size:6.4px;line-height:7.68px;color:#2a2a2e;letter-spacing:0.008em;font-weight:700;left:601.00px;">Recent Activity</div>
<svg style="left:0;top:0" width="800" height="636"><rect x="592.0" y="434.0" width="178.00" height=".55" fill="#f0f1f6"/></svg>
<div class="a" style="top:420.00px;font-size:5.0px;line-height:6.00px;color:#8c9097;letter-spacing:0.045em;left:732.70px;">View All</div>
<svg style="left:754.2px;top:422.5px" width="2.600" height="1.700" viewBox="0 0 6 4" fill="none" stroke="#8c9097" stroke-width="1.100" stroke-linecap="round" stroke-linejoin="round"><path d="M1 1l2 2 2-2"/></svg>
<div class="a" style="left:605px;top:448px;width:0;height:170px;border-left:.5px dotted #e8eaf5"></div>
<div class="a" style="left:601.1px;top:443.5px;width:8px;height:8px;border-radius:50%;background:#845adf17"></div>
<div class="a" style="left:603.5px;top:445.9px;width:3.200px;height:3.200px;border-radius:50%;background:#845adf"></div>
<div class="a" style="top:443.80px;font-size:5.5px;line-height:6.60px;color:#3c3f48;letter-spacing:0.0em;left:616.00px;"><b style="color:#2f3138">Update of calendar events &amp; </b><b style="color:#845adf">Added</b></div>
<div class="a" style="top:452.00px;font-size:5.5px;line-height:6.60px;color:#845adf;letter-spacing:0.0em;left:616.00px;"><b>new events in next week.</b></div>
<div class="a" style="top:444.74px;font-size:4.6px;line-height:5.52px;color:#a1a5ad;letter-spacing:0.03em;right:38.20px;">4:45PM</div>
<div class="a" style="left:601.1px;top:468.8px;width:8px;height:8px;border-radius:50%;background:#23b7e517"></div>
<div class="a" style="left:603.5px;top:471.2px;width:3.200px;height:3.200px;border-radius:50%;background:#23b7e5"></div>
<div class="a" style="top:469.40px;font-size:5.5px;line-height:6.60px;color:#3c3f48;letter-spacing:0.03em;left:616.00px;">New theme for <b style="color:#2f3138;letter-spacing:0">Spruko Website</b></div>
<div class="a" style="top:477.60px;font-size:5.5px;line-height:6.60px;color:#3c3f48;letter-spacing:0.03em;left:616.00px;">completed</div>
<div class="a" style="top:485.83px;font-size:4.95px;line-height:5.94px;color:#9a9ea7;letter-spacing:0.035em;left:616.00px;">Lorem ipsum, dolor sit amet.</div>
<div class="a" style="top:469.74px;font-size:4.6px;line-height:5.52px;color:#a1a5ad;letter-spacing:0.03em;right:38.20px;">3 hrs</div>
<div class="a" style="left:601.1px;top:502.5px;width:8px;height:8px;border-radius:50%;background:#26bf9417"></div>
<div class="a" style="left:603.5px;top:504.9px;width:3.200px;height:3.200px;border-radius:50%;background:#26bf94"></div>
<div class="a" style="top:503.20px;font-size:5.5px;line-height:6.60px;color:#3c3f48;letter-spacing:0.03em;left:616.00px;">Created a <b style="color:#26bf94;letter-spacing:0">New Task</b> today</div>
<div class="a" style="left:688.0px;top:502.7px;width:7.200px;height:7.200px;border-radius:50%;background:#ece6fa"></div>
<svg style="left:690.4px;top:505.1px" width="2.400" height="2.400" viewBox="0 0 6 6" stroke="#845adf" stroke-width="1.300" stroke-linecap="round"><path d="M3 .6v4.800M.6 3h4.800"/></svg>
<div class="a" style="top:502.84px;font-size:4.6px;line-height:5.52px;color:#a1a5ad;letter-spacing:0.03em;right:38.20px;">22 hrs</div>
<div class="a" style="left:601.1px;top:519.8px;width:8px;height:8px;border-radius:50%;background:#ee7aa917"></div>
<div class="a" style="left:603.5px;top:522.1999999999999px;width:3.200px;height:3.200px;border-radius:50%;background:#ee7aa9"></div>
<div class="a" style="top:520.30px;font-size:5.5px;line-height:6.60px;color:#3c3f48;letter-spacing:0.03em;left:616.00px;">New member</div>
<div class="a" style="left:651.6px;top:520.0px;width:41.6px;height:7.200px;border-radius:1px;background:#fdf0f5"></div>
<div class="a" style="top:521.32px;font-size:4.3px;line-height:5.16px;color:#ee7aa9;letter-spacing:0.03em;left:653.61px;">@andreas gurrero</div>
<div class="a" style="top:520.30px;font-size:5.5px;line-height:6.60px;color:#3c3f48;letter-spacing:0.03em;left:695.03px;">added</div>
<div class="a" style="top:528.40px;font-size:5.5px;line-height:6.60px;color:#3c3f48;letter-spacing:0.03em;left:616.00px;">today to AI Summit.</div>
<div class="a" style="top:520.64px;font-size:4.6px;line-height:5.52px;color:#a1a5ad;letter-spacing:0.03em;right:38.20px;">Today</div>
<div class="a" style="left:601.1px;top:545.5px;width:8px;height:8px;border-radius:50%;background:#f5b84917"></div>
<div class="a" style="left:603.5px;top:547.9px;width:3.200px;height:3.200px;border-radius:50%;background:#f5b849"></div>
<div class="a" style="top:545.90px;font-size:5.5px;line-height:6.60px;color:#3c3f48;letter-spacing:0.03em;left:616.00px;">32 New people joined summit.</div>
<div class="a" style="top:546.24px;font-size:4.6px;line-height:5.52px;color:#a1a5ad;letter-spacing:0.03em;right:38.20px;">22 hrs</div>
<div class="a" style="left:601.1px;top:563.3px;width:8px;height:8px;border-radius:50%;background:#23b7e517"></div>
<div class="a" style="left:603.5px;top:565.6999999999999px;width:3.200px;height:3.200px;border-radius:50%;background:#23b7e5"></div>
<div class="a" style="top:563.70px;font-size:5.5px;line-height:6.60px;color:#3c3f48;letter-spacing:0.03em;left:616.00px;">Neon Tarly added <b style="color:#23b7e5;letter-spacing:0">Robert Bright</b> to AI</div>
<div class="a" style="top:571.80px;font-size:5.5px;line-height:6.60px;color:#3c3f48;letter-spacing:0.03em;left:616.00px;">summit project.</div>
<div class="a" style="top:564.04px;font-size:4.6px;line-height:5.52px;color:#a1a5ad;letter-spacing:0.03em;right:38.20px;">12 hrs</div>
<div class="a" style="left:601.1px;top:589px;width:8px;height:8px;border-radius:50%;background:#11111117"></div>
<div class="a" style="left:603.5px;top:591.4px;width:3.200px;height:3.200px;border-radius:50%;background:#111111"></div>
<div class="a" style="top:589.70px;font-size:5.5px;line-height:6.60px;color:#3c3f48;letter-spacing:0.03em;left:616.00px;">Replied to new support request</div>
<svg style="left:699.5px;top:590.4px" width="5.600" height="5.600" viewBox="0 0 12 12" fill="none" stroke="#26bf94" stroke-width="1.100" stroke-linecap="round" stroke-linejoin="round"><circle cx="6" cy="6" r="4.800"/><path d="M3.800 6.200l1.600 1.600 2.900-3.200"/></svg>
<div class="a" style="top:590.04px;font-size:4.6px;line-height:5.52px;color:#a1a5ad;letter-spacing:0.03em;right:38.20px;">4 hrs</div>
<div class="a" style="left:601.1px;top:607.5px;width:8px;height:8px;border-radius:50%;background:#8920ad17"></div>
<div class="a" style="left:603.5px;top:609.9px;width:3.200px;height:3.200px;border-radius:50%;background:#8920ad"></div>
<div class="a" style="top:607.80px;font-size:5.5px;line-height:6.60px;color:#3c3f48;letter-spacing:0.03em;left:616.00px;">Completed documentation of <b style="color:#8229b8;text-decoration:underline;text-decoration-thickness:.5px;text-underline-offset:.4px;letter-spacing:0">AI</b></div>
<div class="a" style="top:616.00px;font-size:5.5px;line-height:6.60px;color:#8229b8;letter-spacing:0.0em;left:616.00px;"><b style="text-decoration:underline;text-decoration-thickness:.5px;text-underline-offset:.4px">Summit.</b></div>
<div class="a" style="top:608.24px;font-size:4.6px;line-height:5.52px;color:#a1a5ad;letter-spacing:0.03em;right:38.20px;">4 hrs</div>
<svg style="left:0;top:0" width="800" height="636"><rect x="29.9" y="431.9" width="552.20" height="200.10" rx="3.2" fill="#0a0a14" fill-opacity=".035"/><rect x="29.9" y="431.2" width="552.20" height="200.10" rx="3.2" fill="#fff"/></svg>
<svg style="left:0;top:0" width="800" height="636"><rect x="34.13" y="441.00" width="1.340" height="3.350" fill="#845adf" fill-opacity=".55"/><rect x="34.13" y="444.35" width="1.340" height="3.350" fill="#23b7e5" fill-opacity=".55"/></svg>
<div class="a" style="top:440.26px;font-size:6.4px;line-height:7.68px;color:#2a2a2e;letter-spacing:0.008em;font-weight:700;left:38.60px;">Deals Statistics</div>
<svg style="left:0;top:0" width="800" height="636"><rect x="29.9" y="457.6" width="552.20" height=".55" fill="#f0f1f6"/></svg>
<div class="a" style="left:450.500px;top:437.800px;width:85px;height:12.600px;border-radius:2px;background:#fff;border:.5px solid #eceef3"></div>
<div class="a" style="top:440.64px;font-size:5.1px;line-height:6.12px;color:#a5a9b2;letter-spacing:0.04em;left:456.00px;">Search Here</div>
<div class="a" style="left:542px;top:438.200px;width:31.800px;height:11.600px;border-radius:1.800px;background:#845adf"></div>
<div class="a" style="top:442.06px;font-size:4.9px;line-height:5.88px;color:#fff;letter-spacing:0.01em;font-weight:700;left:546.00px;">Sort By</div>
<svg style="left:565.600px;top:443.600px" width="3" height="1.800" viewBox="0 0 6 4" fill="#fff"><path d="M.3 .5h5.400L3 3.700z"/></svg>
<svg style="left:0;top:0" width="800" height="636" stroke="#f0f1f5" stroke-width=".5" fill="none"><rect x="38.6" y="466.2" width="535.1999999999999" height="129.7"/><path d="M38.6 484.7H573.8"/><path d="M38.6 507H573.8"/><path d="M38.6 529.3H573.8"/><path d="M38.6 551.5H573.8"/><path d="M38.6 573.7H573.8"/><path d="M69.7 466.2V595.9"/><path d="M169.1 466.2V595.9"/><path d="M245.6 466.2V595.9"/><path d="M367.2 466.2V595.9"/><path d="M420.5 466.2V595.9"/><path d="M519.8 466.2V595.9"/></svg>
<div class="a" style="top:472.48px;font-size:5.2px;line-height:6.24px;color:#333335;letter-spacing:0.02em;font-weight:700;left:75.00px;">Sales Rep</div>
<div class="a" style="top:472.48px;font-size:5.2px;line-height:6.24px;color:#333335;letter-spacing:0.02em;font-weight:700;left:174.40px;">Category</div>
<div class="a" style="top:472.48px;font-size:5.2px;line-height:6.24px;color:#333335;letter-spacing:0.02em;font-weight:700;left:250.80px;">Mail</div>
<div class="a" style="top:472.48px;font-size:5.2px;line-height:6.24px;color:#333335;letter-spacing:0.02em;font-weight:700;left:372.50px;">Location</div>
<div class="a" style="top:472.48px;font-size:5.2px;line-height:6.24px;color:#333335;letter-spacing:0.02em;font-weight:700;left:425.40px;">Date</div>
<div class="a" style="top:472.48px;font-size:5.2px;line-height:6.24px;color:#333335;letter-spacing:0.02em;font-weight:700;left:525.10px;">Action</div>
<div class="a" style="left:48.5px;top:472.40000000000003px;width:6.400px;height:6.400px;border-radius:1.400px;background:#fff;border:.5px solid #e9ebf1"></div>
<div class="a" style="left:48.5px;top:492.7px;width:6.400px;height:6.400px;border-radius:1.400px;background:#fff;border:.5px solid #e9ebf1"></div>
<svg style="left:75.40px;top:490.30px" width="11.2" height="11.2" viewBox="0 0 26 26"><defs><clipPath id="sv0"><circle cx="13" cy="13" r="13"/></clipPath></defs><g clip-path="url(#sv0)"><rect width="26" height="26" fill="#fde9d6"/><path d="M3.500 27c0-6 4-8.500 9.500-8.500s9.500 2.500 9.500 8.500z" fill="#d7442f"/><rect x="11" y="15" width="4" height="5" fill="#e7b08f"/><ellipse cx="13" cy="11.600" rx="4.300" ry="5" fill="#e7b08f"/><path d="M8.200 11.500c-1-6 2.500-8.300 5-8 3.600-.4 5.600 2.600 4.600 8-.5-3-2-4.600-4.800-4.600S8.700 8.500 8.200 11.500z" fill="#a24b2c"/></g></svg>
<div class="a" style="top:492.72px;font-size:5.3px;line-height:6.36px;color:#333335;letter-spacing:0.02em;font-weight:700;left:90.00px;">Mayor Kelly</div>
<div class="a" style="top:492.69px;font-size:5.35px;line-height:6.42px;color:#35373e;letter-spacing:0.04em;left:174.40px;">Manufacture</div>
<div class="a" style="top:492.66px;font-size:5.4px;line-height:6.48px;color:#35373e;letter-spacing:0.04em;left:250.80px;">mayorkelly@gmail.com</div>
<div class="a" style="left:372.500px;top:492.4px;width:23.5px;height:7px;border-radius:1px;background:#e8f7fc"></div>
<div class="a" style="top:493.66px;font-size:3.9px;line-height:4.68px;color:#23b7e5;letter-spacing:0.03em;left:284.25px;width:200px;text-align:center;">Germany</div>
<div class="a" style="top:492.75px;font-size:5.25px;line-height:6.30px;color:#35373e;letter-spacing:0.045em;left:425.40px;">Sep 15 - Oct 12, 2023</div>
<div class="a" style="left:525.100px;top:490.09999999999997px;width:11.600px;height:11.600px;border-radius:1.500px;background:#e4f7f1"></div>
<svg style="left:528.4px;top:493.29999999999995px" width="5" height="5" viewBox="0 0 10 10" fill="none" stroke="#26bf94" stroke-width="1.100" stroke-linecap="round" stroke-linejoin="round"><path d="M5 1.500v4.600M3 4.400l2 2 2-2M1.500 7v1.500h7V7"/></svg>
<div class="a" style="left:540.100px;top:490.09999999999997px;width:11.600px;height:11.600px;border-radius:1.500px;background:#efe9fb"></div>
<svg style="left:543.4px;top:493.29999999999995px" width="5" height="5" viewBox="0 0 10 10" fill="none" stroke="#845adf" stroke-width="1.100" stroke-linecap="round" stroke-linejoin="round"><path d="M2.500 6.200L6.800 1.800l1.400 1.400-4.300 4.400-1.800.4zM2 9h6"/></svg>
<div class="a" style="left:48.5px;top:514.9499999999999px;width:6.400px;height:6.400px;border-radius:1.200px;background:#845adf"></div>
<svg style="left:49.7px;top:516.4499999999999px" width="4" height="3.400" viewBox="0 0 8 7" fill="none" stroke="#fff" stroke-width="1.500" stroke-linecap="round" stroke-linejoin="round"><path d="M1.200 3.600l2 2 3.600-4"/></svg>
<svg style="left:75.40px;top:512.55px" width="11.2" height="11.2" viewBox="0 0 26 26"><defs><clipPath id="sv1"><circle cx="13" cy="13" r="13"/></clipPath></defs><g clip-path="url(#sv1)"><rect width="26" height="26" fill="#d7f0f4"/><path d="M3.500 27c0-6 4-8.500 9.500-8.500s9.500 2.500 9.500 8.500z" fill="#2aa198"/><rect x="11" y="15" width="4" height="5" fill="#e8b592"/><ellipse cx="13" cy="11.600" rx="4.300" ry="5" fill="#e8b592"/><path d="M8.200 11.500c-1-6 2.500-8.300 5-8 3.600-.4 5.600 2.600 4.600 8-.5-3-2-4.600-4.800-4.600S8.700 8.500 8.200 11.500z" fill="#2b2b33"/></g></svg>
<div class="a" style="top:514.97px;font-size:5.3px;line-height:6.36px;color:#333335;letter-spacing:0.02em;font-weight:700;left:90.00px;">Andrew Garfield</div>
<div class="a" style="top:514.94px;font-size:5.35px;line-height:6.42px;color:#35373e;letter-spacing:0.04em;left:174.40px;">Development</div>
<div class="a" style="top:514.91px;font-size:5.4px;line-height:6.48px;color:#35373e;letter-spacing:0.04em;left:250.80px;">andrewgarfield@gmail.com</div>
<div class="a" style="left:372.500px;top:514.65px;width:21px;height:7px;border-radius:1px;background:#efe9fb"></div>
<div class="a" style="top:515.91px;font-size:3.9px;line-height:4.68px;color:#845adf;letter-spacing:0.03em;left:283.00px;width:200px;text-align:center;">Canada</div>
<div class="a" style="top:515.00px;font-size:5.25px;line-height:6.30px;color:#35373e;letter-spacing:0.045em;left:425.40px;">Apr 10 - Dec 12, 2023</div>
<div class="a" style="left:525.100px;top:512.35px;width:11.600px;height:11.600px;border-radius:1.500px;background:#e4f7f1"></div>
<svg style="left:528.4px;top:515.55px" width="5" height="5" viewBox="0 0 10 10" fill="none" stroke="#26bf94" stroke-width="1.100" stroke-linecap="round" stroke-linejoin="round"><path d="M5 1.500v4.600M3 4.400l2 2 2-2M1.500 7v1.500h7V7"/></svg>
<div class="a" style="left:540.100px;top:512.35px;width:11.600px;height:11.600px;border-radius:1.500px;background:#efe9fb"></div>
<svg style="left:543.4px;top:515.55px" width="5" height="5" viewBox="0 0 10 10" fill="none" stroke="#845adf" stroke-width="1.100" stroke-linecap="round" stroke-linejoin="round"><path d="M2.500 6.200L6.800 1.800l1.400 1.400-4.300 4.400-1.800.4zM2 9h6"/></svg>
<div class="a" style="left:48.5px;top:537.1999999999999px;width:6.400px;height:6.400px;border-radius:1.400px;background:#fff;border:.5px solid #e9ebf1"></div>
<svg style="left:75.40px;top:534.80px" width="11.2" height="11.2" viewBox="0 0 26 26"><defs><clipPath id="sv2"><circle cx="13" cy="13" r="13"/></clipPath></defs><g clip-path="url(#sv2)"><rect width="26" height="26" fill="#e3f4e2"/><path d="M3.500 27c0-6 4-8.500 9.500-8.500s9.500 2.500 9.500 8.500z" fill="#8a3a22"/><rect x="11" y="15" width="4" height="5" fill="#dca27d"/><ellipse cx="13" cy="11.600" rx="4.300" ry="5" fill="#dca27d"/><path d="M8.200 11.500c-1-6 2.500-8.300 5-8 3.600-.4 5.600 2.600 4.600 8-.5-3-2-4.600-4.800-4.600S8.700 8.500 8.200 11.500z" fill="#5a2d1a"/></g></svg>
<div class="a" style="top:537.22px;font-size:5.3px;line-height:6.36px;color:#333335;letter-spacing:0.02em;font-weight:700;left:90.00px;">Simon Cowel</div>
<div class="a" style="top:537.19px;font-size:5.35px;line-height:6.42px;color:#35373e;letter-spacing:0.04em;left:174.40px;">Service</div>
<div class="a" style="top:537.16px;font-size:5.4px;line-height:6.48px;color:#35373e;letter-spacing:0.04em;left:250.80px;">simoncowel234@gmail.com</div>
<div class="a" style="left:372.500px;top:536.9px;width:19.5px;height:7px;border-radius:1px;background:#fdecea"></div>
<div class="a" style="top:538.16px;font-size:3.9px;line-height:4.68px;color:#e6533c;letter-spacing:0.03em;left:282.25px;width:200px;text-align:center;">Europe</div>
<div class="a" style="top:537.25px;font-size:5.25px;line-height:6.30px;color:#35373e;letter-spacing:0.045em;left:425.40px;">Sep 15 - Oct 12, 2023</div>
<div class="a" style="left:525.100px;top:534.6px;width:11.600px;height:11.600px;border-radius:1.500px;background:#e4f7f1"></div>
<svg style="left:528.4px;top:537.8px" width="5" height="5" viewBox="0 0 10 10" fill="none" stroke="#26bf94" stroke-width="1.100" stroke-linecap="round" stroke-linejoin="round"><path d="M5 1.500v4.600M3 4.400l2 2 2-2M1.500 7v1.500h7V7"/></svg>
<div class="a" style="left:540.100px;top:534.6px;width:11.600px;height:11.600px;border-radius:1.500px;background:#efe9fb"></div>
<svg style="left:543.4px;top:537.8px" width="5" height="5" viewBox="0 0 10 10" fill="none" stroke="#845adf" stroke-width="1.100" stroke-linecap="round" stroke-linejoin="round"><path d="M2.500 6.200L6.800 1.800l1.400 1.400-4.300 4.400-1.800.4zM2 9h6"/></svg>
<div class="a" style="left:48.5px;top:559.4499999999999px;width:6.400px;height:6.400px;border-radius:1.200px;background:#845adf"></div>
<svg style="left:49.7px;top:560.9499999999999px" width="4" height="3.400" viewBox="0 0 8 7" fill="none" stroke="#fff" stroke-width="1.500" stroke-linecap="round" stroke-linejoin="round"><path d="M1.200 3.600l2 2 3.600-4"/></svg>
<svg style="left:75.40px;top:557.05px" width="11.2" height="11.2" viewBox="0 0 26 26"><defs><clipPath id="sv3"><circle cx="13" cy="13" r="13"/></clipPath></defs><g clip-path="url(#sv3)"><rect width="26" height="26" fill="#fdebd0"/><path d="M3.500 27c0-6 4-8.500 9.500-8.500s9.500 2.500 9.500 8.500z" fill="#33363f"/><rect x="11" y="15" width="4" height="5" fill="#e6b08a"/><ellipse cx="13" cy="11.600" rx="4.300" ry="5" fill="#e6b08a"/><path d="M8.200 11.500c-1-6 2.500-8.300 5-8 3.600-.4 5.600 2.600 4.600 8-.5-3-2-4.600-4.800-4.600S8.700 8.500 8.200 11.500z" fill="#7a2e1e"/></g></svg>
<div class="a" style="top:559.47px;font-size:5.3px;line-height:6.36px;color:#333335;letter-spacing:0.02em;font-weight:700;left:90.00px;">Mirinda Hers</div>
<div class="a" style="top:559.44px;font-size:5.35px;line-height:6.42px;color:#35373e;letter-spacing:0.04em;left:174.40px;">Marketing</div>
<div class="a" style="top:559.41px;font-size:5.4px;line-height:6.48px;color:#35373e;letter-spacing:0.04em;left:250.80px;">mirindahers@gmail.com</div>
<div class="a" style="left:372.500px;top:559.15px;width:14px;height:7px;border-radius:1px;background:#fef6e6"></div>
<div class="a" style="top:560.41px;font-size:3.9px;line-height:4.68px;color:#f5b849;letter-spacing:0.03em;left:279.50px;width:200px;text-align:center;">USA</div>
<div class="a" style="top:559.50px;font-size:5.25px;line-height:6.30px;color:#35373e;letter-spacing:0.045em;left:425.40px;">Apr 14 - Dec 14, 2023</div>
<div class="a" style="left:525.100px;top:556.85px;width:11.600px;height:11.600px;border-radius:1.500px;background:#e4f7f1"></div>
<svg style="left:528.4px;top:560.05px" width="5" height="5" viewBox="0 0 10 10" fill="none" stroke="#26bf94" stroke-width="1.100" stroke-linecap="round" stroke-linejoin="round"><path d="M5 1.500v4.600M3 4.400l2 2 2-2M1.500 7v1.500h7V7"/></svg>
<div class="a" style="left:540.100px;top:556.85px;width:11.600px;height:11.600px;border-radius:1.500px;background:#efe9fb"></div>
<svg style="left:543.4px;top:560.05px" width="5" height="5" viewBox="0 0 10 10" fill="none" stroke="#845adf" stroke-width="1.100" stroke-linecap="round" stroke-linejoin="round"><path d="M2.500 6.200L6.800 1.800l1.400 1.400-4.300 4.400-1.800.4zM2 9h6"/></svg>
<div class="a" style="left:48.5px;top:581.6999999999999px;width:6.400px;height:6.400px;border-radius:1.200px;background:#845adf"></div>
<svg style="left:49.7px;top:583.1999999999999px" width="4" height="3.400" viewBox="0 0 8 7" fill="none" stroke="#fff" stroke-width="1.500" stroke-linecap="round" stroke-linejoin="round"><path d="M1.200 3.600l2 2 3.600-4"/></svg>
<svg style="left:75.40px;top:579.30px" width="11.2" height="11.2" viewBox="0 0 26 26"><defs><clipPath id="sv4"><circle cx="13" cy="13" r="13"/></clipPath></defs><g clip-path="url(#sv4)"><rect width="26" height="26" fill="#d9ddf3"/><path d="M3.500 27c0-6 4-8.500 9.500-8.500s9.500 2.500 9.500 8.500z" fill="#6d6f78"/><rect x="11" y="15" width="4" height="5" fill="#d9a17e"/><ellipse cx="13" cy="11.600" rx="4.300" ry="5" fill="#d9a17e"/><path d="M8.200 11.500c-1-6 2.500-8.300 5-8 3.600-.4 5.600 2.600 4.600 8-.5-3-2-4.600-4.800-4.600S8.700 8.500 8.200 11.500z" fill="#2a2a30"/></g></svg>
<div class="a" style="top:581.72px;font-size:5.3px;line-height:6.36px;color:#333335;letter-spacing:0.02em;font-weight:700;left:90.00px;">Jacob Smith</div>
<div class="a" style="top:581.69px;font-size:5.35px;line-height:6.42px;color:#35373e;letter-spacing:0.04em;left:174.40px;">Social Plataform</div>
<div class="a" style="top:581.66px;font-size:5.4px;line-height:6.48px;color:#35373e;letter-spacing:0.04em;left:250.80px;">jacobsmith@gmail.com</div>
<div class="a" style="left:372.500px;top:581.4px;width:26px;height:7px;border-radius:1px;background:#e4f7f1"></div>
<div class="a" style="top:582.66px;font-size:3.9px;line-height:4.68px;color:#26bf94;letter-spacing:0.03em;left:285.50px;width:200px;text-align:center;">Singapore</div>
<div class="a" style="top:581.75px;font-size:5.25px;line-height:6.30px;color:#35373e;letter-spacing:0.045em;left:425.40px;">Feb 25 - Nov 25, 2023</div>
<div class="a" style="left:525.100px;top:579.1px;width:11.600px;height:11.600px;border-radius:1.500px;background:#e4f7f1"></div>
<svg style="left:528.4px;top:582.3px" width="5" height="5" viewBox="0 0 10 10" fill="none" stroke="#26bf94" stroke-width="1.100" stroke-linecap="round" stroke-linejoin="round"><path d="M5 1.500v4.600M3 4.400l2 2 2-2M1.500 7v1.500h7V7"/></svg>
<div class="a" style="left:540.100px;top:579.1px;width:11.600px;height:11.600px;border-radius:1.500px;background:#efe9fb"></div>
<svg style="left:543.4px;top:582.3px" width="5" height="5" viewBox="0 0 10 10" fill="none" stroke="#845adf" stroke-width="1.100" stroke-linecap="round" stroke-linejoin="round"><path d="M2.500 6.200L6.800 1.800l1.400 1.400-4.300 4.400-1.800.4zM2 9h6"/></svg>
<div class="a" style="left:30px;top:604.200px;width:552px;height:.6px;background:#f1f2f6"></div>
<div class="a" style="top:615.08px;font-size:5.2px;line-height:6.24px;color:#5f6471;letter-spacing:0.04em;left:38.60px;">Showing 5 Entries</div>
<svg style="left:89.500px;top:616.400px" width="4.600" height="3.400" viewBox="0 0 9 7" fill="none" stroke="#5f6471" stroke-width="1" stroke-linecap="round" stroke-linejoin="round"><path d="M.8 3.500h7M5.600 1.200l2.300 2.300-2.300 2.300"/></svg>
<div class="a" style="top:615.14px;font-size:5.1px;line-height:6.12px;color:#8c9097;letter-spacing:0.04em;left:511.20px;">Prev</div>
<div class="a" style="left:527.700px;top:611.800px;width:12.400px;height:12.800px;border-radius:1.800px;background:#845adf"></div>
<div class="a" style="top:615.08px;font-size:5.2px;line-height:6.24px;color:#fff;letter-spacing:0.012em;font-weight:700;left:433.90px;width:200px;text-align:center;">1</div>
<div class="a" style="top:615.08px;font-size:5.2px;line-height:6.24px;color:#5f6471;letter-spacing:0.04em;left:446.50px;width:200px;text-align:center;">2</div>
<div class="a" style="top:615.14px;font-size:5.1px;line-height:6.12px;color:#845adf;letter-spacing:0.04em;left:557.70px;">next</div>
</div></body></html>
